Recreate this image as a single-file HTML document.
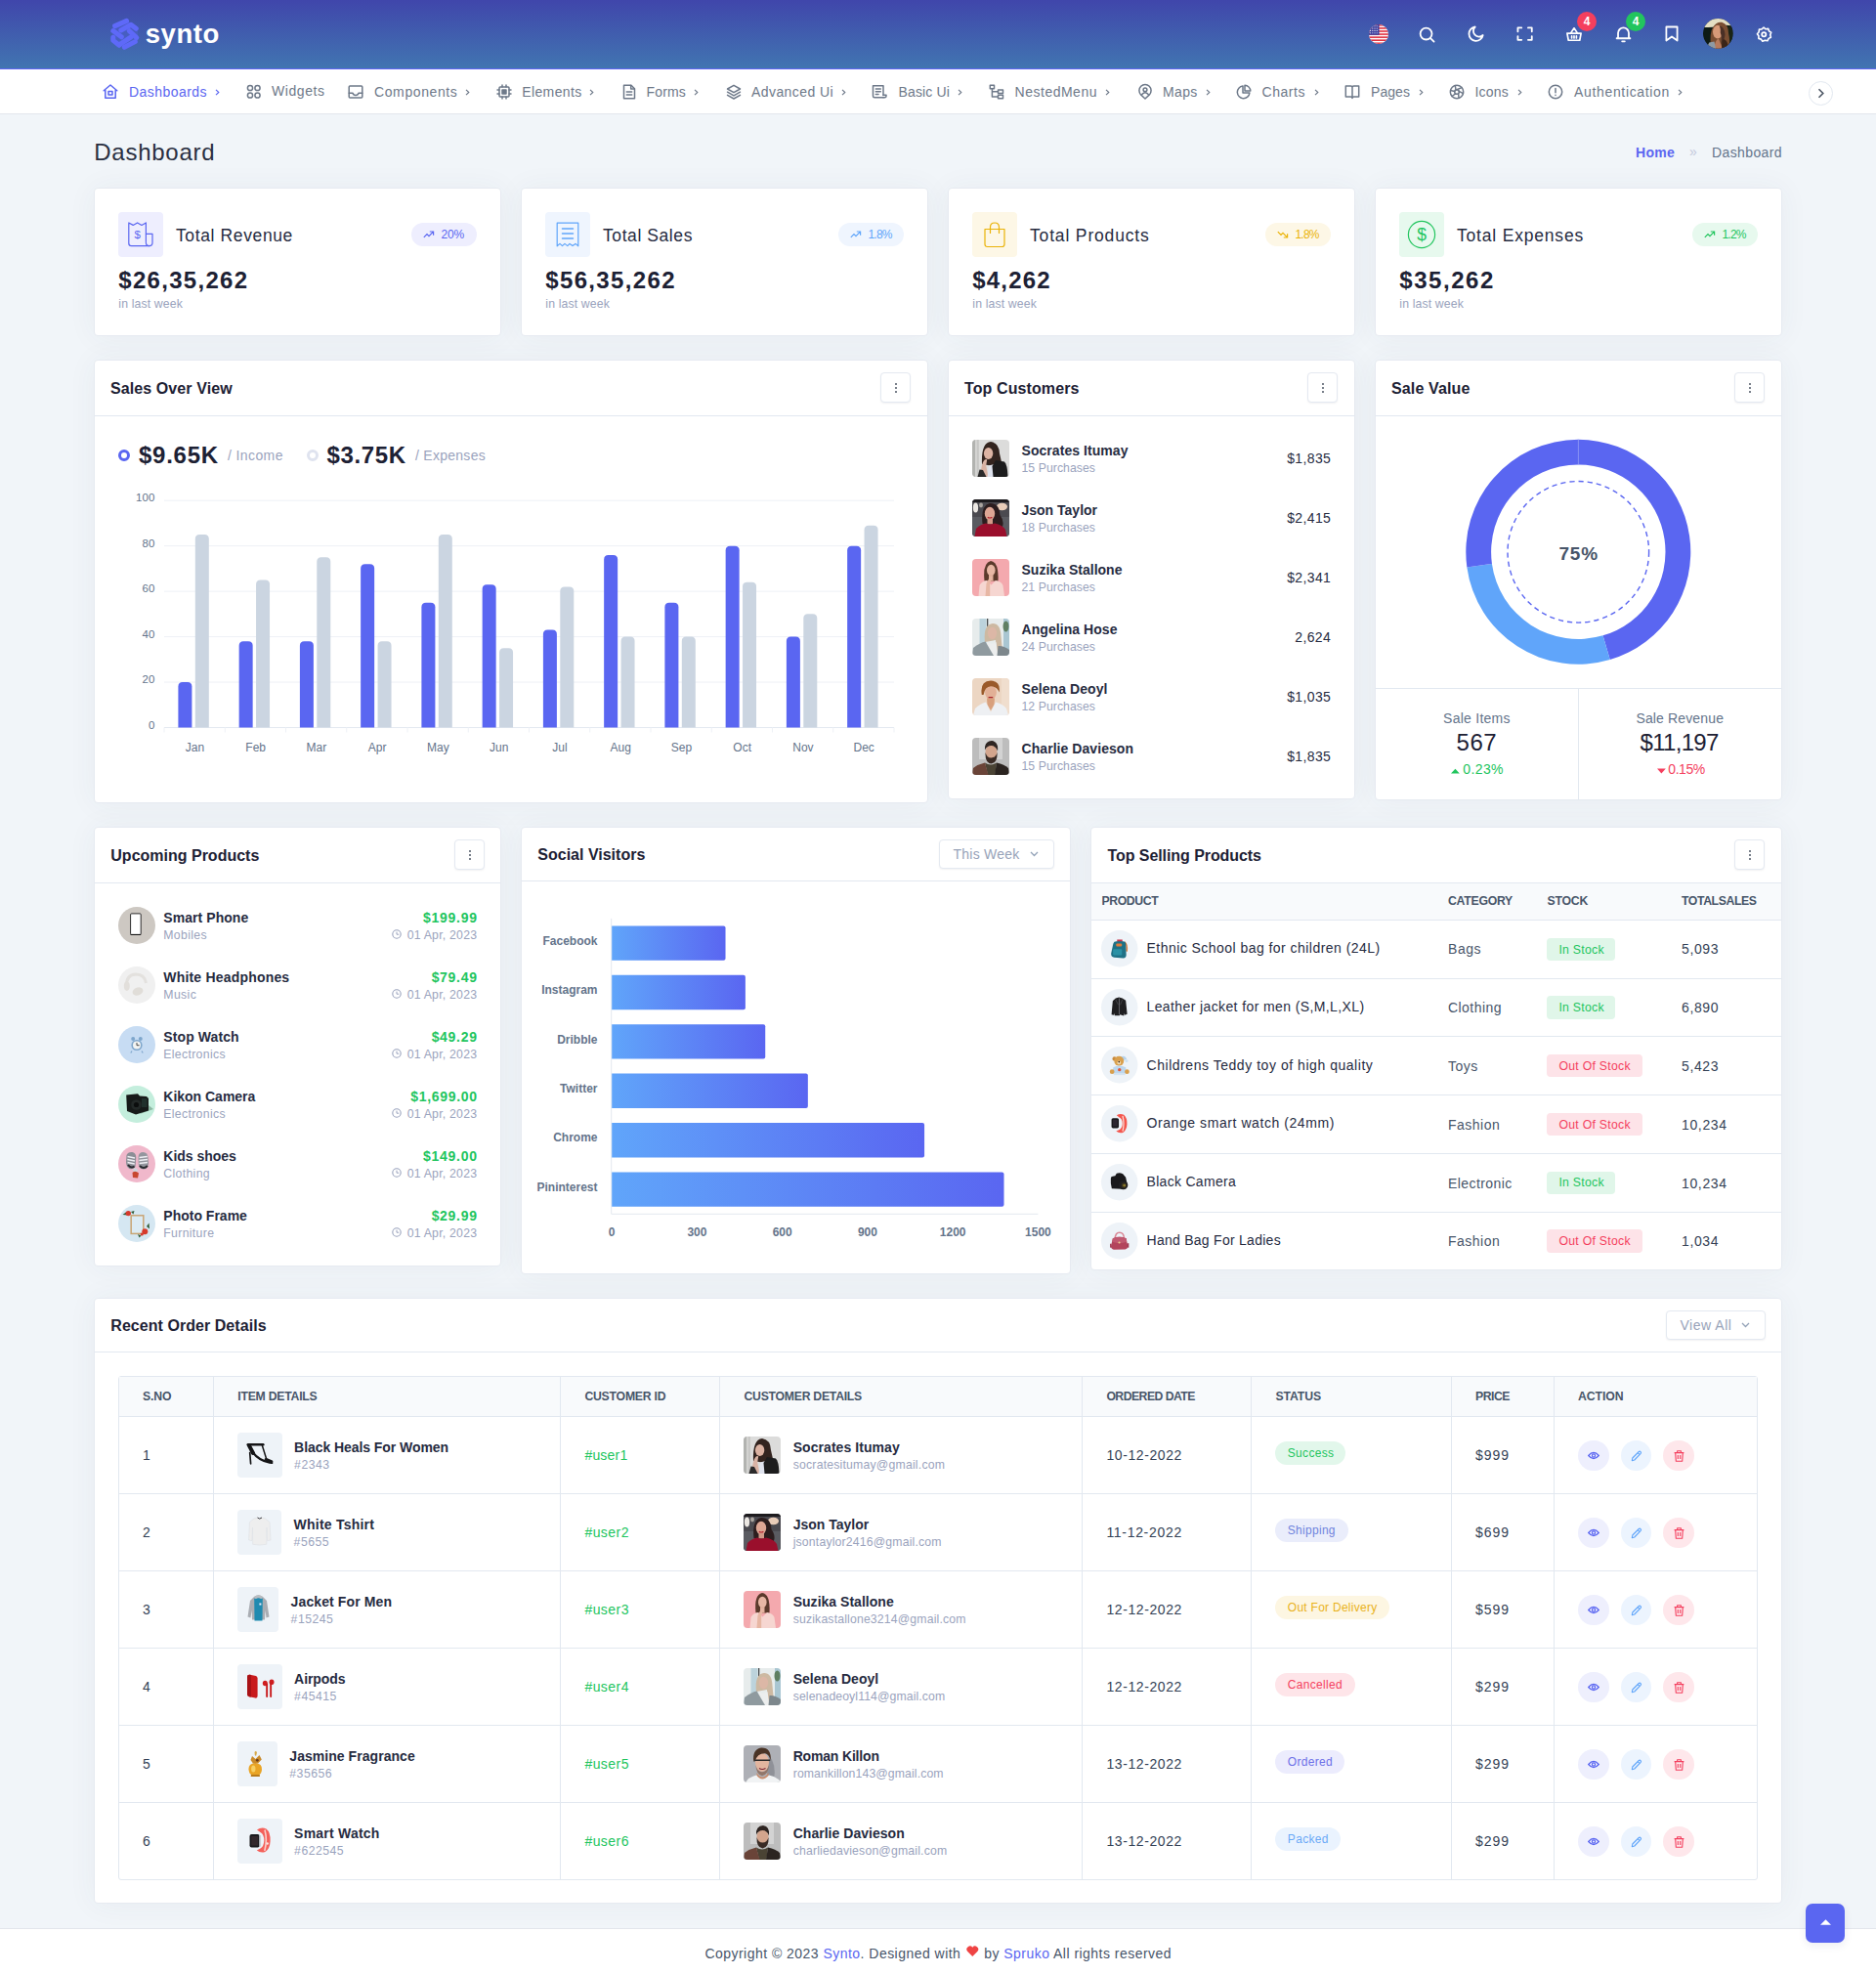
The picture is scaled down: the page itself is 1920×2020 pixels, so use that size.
<!DOCTYPE html>
<html lang="en"><head><meta charset="utf-8"><title>Synto - Dashboard</title>
<style>
*{margin:0;padding:0;box-sizing:border-box}
html,body{width:1920px;height:2020px;overflow:hidden}
body{position:relative;background:#f1f5f9;font-family:"Liberation Sans",sans-serif;color:#1f2438}
.a{position:absolute;display:block}
.t{position:absolute;white-space:nowrap;line-height:1}
.hdr{background:linear-gradient(to bottom,#4046ab,#4175b1)}
.card{background:#fff;border:1px solid #e6eaf1;border-radius:4px;box-shadow:0 1px 30px rgba(51,65,85,.055)}
.btn{background:#fff;border:1px solid #e4e9f1;border-radius:4px;box-shadow:0 1px 2px rgba(15,23,42,.06)}
svg{overflow:visible}
svg text{font-family:"Liberation Sans",sans-serif}
</style></head>
<body>
<div class="a hdr" style="left:0;top:0;width:1920px;height:70px;"></div>
<div class="a" style="left:0px;top:70px;width:1920px;height:1px;background:#6366f1;"></div>
<div class="a" style="left:0px;top:71px;width:1920px;height:45px;background:#fff;"></div>
<div class="a" style="left:0px;top:116px;width:1920px;height:1px;background:#e3e6ec;"></div>
<svg class="a" style="left:108px;top:14px;" width="40" height="42" viewBox="0 0 40 42"><path d="M20 6 L33 13.5 L33 28.5 L20 36 L7 28.5 L7 13.5 Z" fill="#4d5ed0" opacity=".55"/><g fill="none" stroke="#5e69f8" stroke-width="5" stroke-linecap="round" stroke-linejoin="round"><path d="M9.6 12.6 L21.6 7.4"/><path d="M15.8 17 L26 11.3 L31.3 15.3"/><path d="M24.3 17.6 L31.8 24.6"/><path d="M7.8 17.6 L16.3 23.8"/><path d="M7.8 24.2 V27.4 L14 32.3"/><path d="M14.8 31.3 L25.8 24.2"/><path d="M19.3 34.3 L30.3 28.6"/></g></svg>
<div class="t" style="top:21px;font-size:27.5px;color:#fff;font-weight:700;letter-spacing:0.59px;left:148.7px;">synto</div>
<svg class="a" style="left:1401px;top:24.5px;" width="20" height="20" viewBox="0 0 20 20"><defs><clipPath id="fc"><circle cx="10" cy="10" r="10"/></clipPath></defs><g clip-path="url(#fc)"><rect width="20" height="20" fill="#fff"/><rect x="0" y="0" width="20" height="1.6" fill="#e0313f"/><rect x="0" y="3.08" width="20" height="1.6" fill="#e0313f"/><rect x="0" y="6.16" width="20" height="1.6" fill="#e0313f"/><rect x="0" y="9.24" width="20" height="1.6" fill="#e0313f"/><rect x="0" y="12.32" width="20" height="1.6" fill="#e0313f"/><rect x="0" y="15.4" width="20" height="1.6" fill="#e0313f"/><rect x="0" y="18.48" width="20" height="1.6" fill="#e0313f"/><rect x="0" y="0" width="10.5" height="10.8" fill="#3c3f9e"/><circle cx="1.6" cy="1.8" r=".55" fill="#fff"/><circle cx="1.6" cy="4.1" r=".55" fill="#fff"/><circle cx="1.6" cy="6.4" r=".55" fill="#fff"/><circle cx="1.6" cy="8.7" r=".55" fill="#fff"/><circle cx="3.8" cy="1.8" r=".55" fill="#fff"/><circle cx="3.8" cy="4.1" r=".55" fill="#fff"/><circle cx="3.8" cy="6.4" r=".55" fill="#fff"/><circle cx="3.8" cy="8.7" r=".55" fill="#fff"/><circle cx="6" cy="1.8" r=".55" fill="#fff"/><circle cx="6" cy="4.1" r=".55" fill="#fff"/><circle cx="6" cy="6.4" r=".55" fill="#fff"/><circle cx="6" cy="8.7" r=".55" fill="#fff"/><circle cx="8.2" cy="1.8" r=".55" fill="#fff"/><circle cx="8.2" cy="4.1" r=".55" fill="#fff"/><circle cx="8.2" cy="6.4" r=".55" fill="#fff"/><circle cx="8.2" cy="8.7" r=".55" fill="#fff"/></g></svg>
<svg class="a" style="left:1452.3px;top:26.6px;" width="17" height="17" viewBox="0 0 18 18"><g fill="none" stroke="#fff" stroke-width="1.9" stroke-linecap="round" stroke-linejoin="round"><circle cx="8" cy="8" r="6.3"/><path d="M13 13 L16.5 16.5"/></g></svg>
<svg class="a" style="left:1502.3px;top:26.3px;" width="17" height="17" viewBox="0 0 18 18"><path fill="none" stroke="#fff" stroke-width="1.9" stroke-linecap="round" stroke-linejoin="round" d="M8.2 1.6 A7.6 7.6 0 1 0 16.6 10.6 A6 6 0 0 1 8.2 1.6 Z"/></svg>
<svg class="a" style="left:1552.4px;top:27.2px;" width="17.2" height="15.3" viewBox="0 0 18 16"><path fill="none" stroke="#fff" stroke-width="1.9" stroke-linecap="round" stroke-linejoin="round" d="M1.5 5.5 V1.5 H5.5 M12.5 1.5 H16.5 V5.5 M16.5 10.5 V14.5 H12.5 M5.5 14.5 H1.5 V10.5"/></svg>
<svg class="a" style="left:1603px;top:26.6px;" width="16" height="16" viewBox="0 0 18 18"><g fill="none" stroke="#fff" stroke-width="1.9" stroke-linecap="round" stroke-linejoin="round" stroke-width="1.7"><path d="M1 8 H17 L15.5 16 H2.5 Z"/><path d="M5 8 L9 2 L13 8"/><path d="M6.3 11 V13.5 M9 11 V13.5 M11.7 11 V13.5"/></g></svg>
<div class="a" style="left:1614px;top:12px;width:20px;height:20px;background:#f43f5e;border-radius:50%;"></div>
<div class="t" style="top:16px;font-size:12px;color:#fff;font-weight:700;left:1324px;width:600px;text-align:center;">4</div>
<svg class="a" style="left:1652.7px;top:25.8px;" width="17" height="18" viewBox="0 0 18 19"><g fill="none" stroke="#fff" stroke-width="1.9" stroke-linecap="round" stroke-linejoin="round"><path d="M3.2 14 V8.3 A5.8 5.8 0 0 1 14.8 8.3 V14 H16.3 H1.7 Z"/><path d="M7.6 17.3 H10.4"/></g></svg>
<div class="a" style="left:1664px;top:12px;width:20px;height:20px;background:#22c55e;border-radius:50%;"></div>
<div class="t" style="top:16px;font-size:12px;color:#fff;font-weight:700;left:1374px;width:600px;text-align:center;">4</div>
<svg class="a" style="left:1704px;top:26.3px;" width="14" height="17" viewBox="0 0 15 18"><path fill="none" stroke="#fff" stroke-width="1.9" stroke-linecap="round" stroke-linejoin="round" d="M1.5 1.5 H13.5 V16.5 L7.5 12.2 L1.5 16.5 Z"/></svg>
<svg class="a" style="left:1742.8px;top:19.4px;" width="30.7" height="30.7" viewBox="0 0 32 32"><defs><clipPath id="ac"><circle cx="16" cy="16" r="16"/></clipPath></defs><g clip-path="url(#ac)"><rect width="32" height="32" fill="#0d1a15"/><path d="M0 0 H32 V8 Q24 6 16 8 Q8 10 0 9Z" fill="#e4dfc4"/><rect x="22" y="8" width="10" height="24" fill="#1a2416"/><path d="M8.5 32 Q6.5 15 10.5 9.5 Q14.5 3 20 4 Q27 6 27.2 16 Q29.5 25 27 32 Z" fill="#7a4e32"/><ellipse cx="15.6" cy="14.2" rx="5.2" ry="7.2" fill="#d79a78"/><path d="M17.5 7.5 Q23 9 23.5 17 Q23 24 19 27 Q20.5 20 18.5 15 Q19 11 17.5 7.5Z" fill="#4a3026"/><path d="M12 32 Q12.5 23.5 16.5 21.5 L21 32Z" fill="#b87a5c"/><path d="M20 32 Q19 24 22 22 Q27 24 27 32Z" fill="#3a2418"/><path d="M3.5 32 L6.5 25.5 L12 24.5 L13.5 32 Z" fill="#8e9aa4"/></g></svg>
<svg class="a" style="left:1796.7px;top:26.6px;" width="16.2" height="16.2" viewBox="0 0 17 17"><g fill="none" stroke="#fff" stroke-width="1.9" stroke-linejoin="round"><path d="M8.5 1.2 L10.6 2.9 L13.3 2.5 L14.2 5.1 L16.5 6.6 L15.5 9.1 L16.2 11.8 L13.8 13 L12.5 15.5 L9.8 15 L7.2 16 L5.6 13.8 L3 13 L3.1 10.3 L1.5 8.1 L3.3 6 L3.6 3.3 L6.3 3 Z" stroke-width="1.7"/><circle cx="8.7" cy="8.6" r="2.2"/></g></svg>
<svg class="a" style="left:104.7px;top:85.6px;" width="16" height="16" viewBox="0 0 16 16"><g fill="none" stroke="#5a66f1" stroke-width="1.5" stroke-linecap="round" stroke-linejoin="round"><path d="M1.2 6.8 L8 1 L14.8 6.8 M2.8 6.3 V14.3 H13.2 V6.3"/><rect x="6" y="7.5" width="4" height="3.6"/></g></svg>
<div class="t" style="top:87px;font-size:14px;color:#5a66f1;letter-spacing:0.45px;left:132px;">Dashboards</div>
<svg class="a" style="left:219.5px;top:90.6px;" width="5" height="7" viewBox="0 0 5 7"><path d="M1 0.8 L3.8 3.5 L1 6.2" fill="none" stroke="#5a66f1" stroke-width="1.15"/></svg>
<svg class="a" style="left:251.7px;top:85.6px;" width="16" height="16" viewBox="0 0 16 16"><g fill="none" stroke="#6e7989" stroke-width="1.5" stroke-linecap="round" stroke-linejoin="round"><circle cx="4" cy="4" r="2.6"/><circle cx="11.5" cy="4" r="2.6"/><circle cx="4" cy="11.5" r="2.6"/><circle cx="11.5" cy="11.5" r="2.6"/></g></svg>
<div class="t" style="top:86px;font-size:14px;color:#6e7989;letter-spacing:0.56px;left:278px;">Widgets</div>
<svg class="a" style="left:355.7px;top:85.6px;" width="16" height="16" viewBox="0 0 16 16"><g fill="none" stroke="#6e7989" stroke-width="1.5" stroke-linecap="round" stroke-linejoin="round"><rect x="1.2" y="2" width="13.6" height="12" rx="1"/><path d="M1.2 9.2 H5 Q5.6 11.4 8 11.4 Q10.4 11.4 11 9.2 H14.8"/></g></svg>
<div class="t" style="top:87px;font-size:14px;color:#6e7989;letter-spacing:0.61px;left:383px;">Components</div>
<svg class="a" style="left:476px;top:90.6px;" width="5" height="7" viewBox="0 0 5 7"><path d="M1 0.8 L3.8 3.5 L1 6.2" fill="none" stroke="#6e7989" stroke-width="1.15"/></svg>
<svg class="a" style="left:507.7px;top:85.6px;" width="16" height="16" viewBox="0 0 16 16"><g fill="none" stroke="#6e7989" stroke-width="1.5" stroke-linecap="round" stroke-linejoin="round"><rect x="3" y="3" width="10" height="10" rx="1"/><rect x="6" y="6" width="4" height="4" fill="#6e7989"/><path d="M6 1 V3 M10 1 V3 M6 13 V15 M10 13 V15 M1 6 H3 M1 10 H3 M13 6 H15 M13 10 H15"/></g></svg>
<div class="t" style="top:87px;font-size:14px;color:#6e7989;letter-spacing:0.36px;left:534.3px;">Elements</div>
<svg class="a" style="left:602.5px;top:90.6px;" width="5" height="7" viewBox="0 0 5 7"><path d="M1 0.8 L3.8 3.5 L1 6.2" fill="none" stroke="#6e7989" stroke-width="1.15"/></svg>
<svg class="a" style="left:635.7px;top:85.6px;" width="16" height="16" viewBox="0 0 16 16"><g fill="none" stroke="#6e7989" stroke-width="1.5" stroke-linecap="round" stroke-linejoin="round"><path d="M2.5 1.3 H10 L13.5 4.8 V14.7 H2.5 Z"/><path d="M9.7 1.5 V5 H13.3 M5.3 8 H10.7 M5.3 11 H10.7"/></g></svg>
<div class="t" style="top:87px;font-size:14px;color:#6e7989;letter-spacing:0.17px;left:661.5px;">Forms</div>
<svg class="a" style="left:709.5px;top:90.6px;" width="5" height="7" viewBox="0 0 5 7"><path d="M1 0.8 L3.8 3.5 L1 6.2" fill="none" stroke="#6e7989" stroke-width="1.15"/></svg>
<svg class="a" style="left:742.7px;top:85.6px;" width="16" height="16" viewBox="0 0 16 16"><g fill="none" stroke="#6e7989" stroke-width="1.5" stroke-linecap="round" stroke-linejoin="round"><path d="M8 1.3 L14.5 5 L8 8.7 L1.5 5 Z"/><path d="M1.5 8.2 L8 11.9 L14.5 8.2 M1.5 11.3 L8 15 L14.5 11.3"/></g></svg>
<div class="t" style="top:87px;font-size:14px;color:#6e7989;letter-spacing:0.42px;left:769px;">Advanced Ui</div>
<svg class="a" style="left:860.5px;top:90.6px;" width="5" height="7" viewBox="0 0 5 7"><path d="M1 0.8 L3.8 3.5 L1 6.2" fill="none" stroke="#6e7989" stroke-width="1.15"/></svg>
<svg class="a" style="left:891.7px;top:85.6px;" width="16" height="16" viewBox="0 0 16 16"><g fill="none" stroke="#6e7989" stroke-width="1.5" stroke-linecap="round" stroke-linejoin="round"><path d="M12 13.8 H3 Q1.5 13.8 1.5 12.3 V1.8 H12 V11.5"/><path d="M12 11.3 H15 V12.3 Q15 13.8 13.5 13.8 H12 M4.3 5 H9.3 M4.3 7.7 H9.3 M4.3 10.4 H7"/></g></svg>
<div class="t" style="top:87px;font-size:14px;color:#6e7989;letter-spacing:0.13px;left:919.6px;">Basic Ui</div>
<svg class="a" style="left:979.5px;top:90.6px;" width="5" height="7" viewBox="0 0 5 7"><path d="M1 0.8 L3.8 3.5 L1 6.2" fill="none" stroke="#6e7989" stroke-width="1.15"/></svg>
<svg class="a" style="left:1012.2px;top:85.6px;" width="16" height="16" viewBox="0 0 16 16"><g fill="none" stroke="#6e7989" stroke-width="1.5" stroke-linecap="round" stroke-linejoin="round"><rect x="1.3" y="1.3" width="4.2" height="3.4"/><rect x="9.5" y="6" width="5" height="3.4"/><rect x="9.5" y="11.3" width="5" height="3.4"/><path d="M3.4 4.7 V13 H9.5 M3.4 7.7 H9.5"/></g></svg>
<div class="t" style="top:87px;font-size:14px;color:#6e7989;letter-spacing:0.5px;left:1038.6px;">NestedMenu</div>
<svg class="a" style="left:1130.5px;top:90.6px;" width="5" height="7" viewBox="0 0 5 7"><path d="M1 0.8 L3.8 3.5 L1 6.2" fill="none" stroke="#6e7989" stroke-width="1.15"/></svg>
<svg class="a" style="left:1163.7px;top:85.6px;" width="16" height="16" viewBox="0 0 16 16"><g fill="none" stroke="#6e7989" stroke-width="1.5" stroke-linecap="round" stroke-linejoin="round"><path d="M8 15 L3.6 10.9 A6.1 6.1 0 1 1 12.4 10.9 Z"/><circle cx="8" cy="5.8" r="1.9"/><path d="M4.8 10.6 Q8 7 11.2 10.6"/></g></svg>
<div class="t" style="top:87px;font-size:14px;color:#6e7989;letter-spacing:0.34px;left:1190px;">Maps</div>
<svg class="a" style="left:1233.5px;top:90.6px;" width="5" height="7" viewBox="0 0 5 7"><path d="M1 0.8 L3.8 3.5 L1 6.2" fill="none" stroke="#6e7989" stroke-width="1.15"/></svg>
<svg class="a" style="left:1264.7px;top:85.6px;" width="16" height="16" viewBox="0 0 16 16"><g fill="none" stroke="#6e7989" stroke-width="1.5" stroke-linecap="round" stroke-linejoin="round"><path d="M7 2.1 A6.3 6.3 0 1 0 13.9 9 H7 Z"/><path d="M9 1.2 A6.3 6.3 0 0 1 14.8 7 H9 Z" transform="translate(0,0)"/></g></svg>
<div class="t" style="top:87px;font-size:14px;color:#6e7989;letter-spacing:0.54px;left:1291.5px;">Charts</div>
<svg class="a" style="left:1344.5px;top:90.6px;" width="5" height="7" viewBox="0 0 5 7"><path d="M1 0.8 L3.8 3.5 L1 6.2" fill="none" stroke="#6e7989" stroke-width="1.15"/></svg>
<svg class="a" style="left:1375.7px;top:85.6px;" width="16" height="16" viewBox="0 0 16 16"><g fill="none" stroke="#6e7989" stroke-width="1.5" stroke-linecap="round" stroke-linejoin="round"><path d="M8 3 V14.5 M1.3 2 H6.5 Q8 2 8 3.5 Q8 2 9.5 2 H14.7 V13 H9.5 Q8 13 8 14.5 Q8 13 6.5 13 H1.3 Z"/></g></svg>
<div class="t" style="top:87px;font-size:14px;color:#6e7989;letter-spacing:0.06px;left:1403px;">Pages</div>
<svg class="a" style="left:1451.5px;top:90.6px;" width="5" height="7" viewBox="0 0 5 7"><path d="M1 0.8 L3.8 3.5 L1 6.2" fill="none" stroke="#6e7989" stroke-width="1.15"/></svg>
<svg class="a" style="left:1482.7px;top:85.6px;" width="16" height="16" viewBox="0 0 16 16"><g fill="none" stroke="#6e7989" stroke-width="1.5" stroke-linecap="round" stroke-linejoin="round"><circle cx="8" cy="8" r="6.7"/><circle cx="8" cy="8" r="2.3"/><path d="M8 5.7 L13 3.6 M10.2 7.4 L14.5 9.6 M9.6 9.7 L10 14.3 M6.7 9.9 L3 12.5 M5.8 7.6 L1.5 6.5 M7 5.9 L6.3 1.6"/></g></svg>
<div class="t" style="top:87px;font-size:14px;color:#6e7989;letter-spacing:0.21px;left:1509.5px;">Icons</div>
<svg class="a" style="left:1552.5px;top:90.6px;" width="5" height="7" viewBox="0 0 5 7"><path d="M1 0.8 L3.8 3.5 L1 6.2" fill="none" stroke="#6e7989" stroke-width="1.15"/></svg>
<svg class="a" style="left:1584.2px;top:85.6px;" width="16" height="16" viewBox="0 0 16 16"><g fill="none" stroke="#6e7989" stroke-width="1.5" stroke-linecap="round" stroke-linejoin="round"><circle cx="8" cy="8" r="6.7"/><path d="M8 4.5 V8.7 M8 11.2 V11.4"/></g></svg>
<div class="t" style="top:87px;font-size:14px;color:#6e7989;letter-spacing:0.66px;left:1611px;">Authentication</div>
<svg class="a" style="left:1716.5px;top:90.6px;" width="5" height="7" viewBox="0 0 5 7"><path d="M1 0.8 L3.8 3.5 L1 6.2" fill="none" stroke="#6e7989" stroke-width="1.15"/></svg>
<div class="a" style="left:1851px;top:82.5px;width:25px;height:25px;border:1px solid #e2e8f0;border-radius:50%;background:#fff;box-sizing:border-box;"></div>
<svg class="a" style="left:1860px;top:90px;" width="8" height="11" viewBox="0 0 8 11"><path d="M1.5 1.2 L5.8 5.5 L1.5 9.8" fill="none" stroke="#4b5563" stroke-width="1.6"/></svg>
<div class="t" style="top:144px;font-size:24px;color:#2a3042;letter-spacing:0.73px;left:96.3px;">Dashboard</div>
<div class="t" style="top:149px;font-size:14px;color:#5a66f1;font-weight:700;letter-spacing:0.28px;left:1674px;">Home</div>
<div class="t" style="top:148px;font-size:14px;color:#c3c8dc;left:1729px;">»</div>
<div class="t" style="top:149px;font-size:14px;color:#64748b;letter-spacing:0.39px;left:1752px;">Dashboard</div>
<div class="a card" style="left:96px;top:192px;width:417px;height:152px;"></div>
<div class="a" style="left:121px;top:217px;width:46px;height:46px;background:#eeeefe;border-radius:4px;"></div>
<svg class="a" style="left:131px;top:226.5px;" width="27" height="27" viewBox="0 0 27 27"><g fill="none" stroke="#5a66f1" stroke-width="1.2" stroke-linejoin="round" stroke-linecap="round"><path d="M0.8 1 L5.2 3.4 L9.6 0.9 L14 3.4 L18.4 0.9 V20.5 M0.8 1 V22 Q0.8 24.6 3.4 24.6 H22"/><path d="M18.4 12.3 H25 V21.5 Q25 24.6 21.8 24.6 Q18.4 24.6 18.4 21.3"/></g><text x="9.6" y="17.2" font-size="11.5" fill="#5a66f1" text-anchor="middle" font-family="Liberation Sans,sans-serif">$</text></svg>
<div class="t" style="top:233px;font-size:17.5px;color:#262b3f;letter-spacing:0.62px;left:180px;">Total Revenue</div>
<div class="a" style="left:420.8px;top:228.2px;width:67.2px;height:23.6px;background:#eeeefe;border-radius:12px;"></div>
<div class="t" style="top:234px;font-size:12px;color:#5a66f1;letter-spacing:-0.07px;left:451.4px;">20%</div>
<svg class="a" style="left:433.4px;top:236px;" width="12" height="9" viewBox="0 0 12 9"><path d="M0.8 6.8 L4 3.6 L6 5.6 L10.4 1.2 M6.8 1 H10.6 V4.8" fill="none" stroke="#5a66f1" stroke-width="1.2"/></svg>
<div class="t" style="top:275px;font-size:24px;color:#1d2134;font-weight:700;letter-spacing:1.29px;left:121.3px;">$26,35,262</div>
<div class="t" style="top:305px;font-size:12.25px;color:#9aa3bd;letter-spacing:0.14px;left:121.3px;">in last week</div>
<div class="a card" style="left:533px;top:192px;width:417px;height:152px;"></div>
<div class="a" style="left:558px;top:217px;width:46px;height:46px;background:#eff5fe;border-radius:4px;"></div>
<svg class="a" style="left:569px;top:226.5px;" width="24" height="27" viewBox="0 0 24 27"><g fill="none" stroke="#60a5fa" stroke-width="1.2" stroke-linejoin="round" stroke-linecap="round"><path d="M1.2 24.8 V1.2 H22.8 V24.8 L20 22.4 L17 24.6 L14 22.4 L11.8 24.6 L9 22.4 L6.5 24.6 L4 22.4 Z"/><path d="M6.5 7 H17.5 M6.5 12 H17.5 M6.5 17 H17.5" stroke-width="1.5"/></g></svg>
<div class="t" style="top:233px;font-size:17.5px;color:#262b3f;letter-spacing:0.58px;left:617px;">Total Sales</div>
<div class="a" style="left:857.8px;top:228.2px;width:67.2px;height:23.6px;background:#eff5fe;border-radius:12px;"></div>
<div class="t" style="top:234px;font-size:12px;color:#60a5fa;letter-spacing:-0.74px;left:888.4px;">1.8%</div>
<svg class="a" style="left:870.4px;top:236px;" width="12" height="9" viewBox="0 0 12 9"><path d="M0.8 6.8 L4 3.6 L6 5.6 L10.4 1.2 M6.8 1 H10.6 V4.8" fill="none" stroke="#60a5fa" stroke-width="1.2"/></svg>
<div class="t" style="top:275px;font-size:24px;color:#1d2134;font-weight:700;letter-spacing:1.34px;left:558.3px;">$56,35,262</div>
<div class="t" style="top:305px;font-size:12.25px;color:#9aa3bd;letter-spacing:0.14px;left:558.3px;">in last week</div>
<div class="a card" style="left:970px;top:192px;width:417px;height:152px;"></div>
<div class="a" style="left:995px;top:217px;width:46px;height:46px;background:#fdf7e6;border-radius:4px;"></div>
<svg class="a" style="left:1007px;top:226.5px;" width="22" height="27" viewBox="0 0 22 27"><g fill="none" stroke="#eab308" stroke-width="1.2" stroke-linejoin="round" stroke-linecap="round" stroke-width="1.3"><path d="M1 7.5 H21 V23 Q21 25.5 18.5 25.5 H3.5 Q1 25.5 1 23 Z"/><path d="M6.5 11.5 V5.5 Q6.5 1 11 1 Q15.5 1 15.5 5.5 V11.5"/></g></svg>
<div class="t" style="top:233px;font-size:17.5px;color:#262b3f;letter-spacing:0.84px;left:1054px;">Total Products</div>
<div class="a" style="left:1294.8px;top:228.2px;width:67.2px;height:23.6px;background:#fdf7e6;border-radius:12px;"></div>
<div class="t" style="top:234px;font-size:12px;color:#eab308;letter-spacing:-0.74px;left:1325.4px;">1.8%</div>
<svg class="a" style="left:1307.4px;top:236px;" width="12" height="9" viewBox="0 0 12 9"><path d="M0.8 1.2 L4 4.4 L6 2.4 L10.4 6.8 M6.8 7 H10.6 V3.2" fill="none" stroke="#eab308" stroke-width="1.2"/></svg>
<div class="t" style="top:275px;font-size:24px;color:#1d2134;font-weight:700;letter-spacing:1.18px;left:995.3px;">$4,262</div>
<div class="t" style="top:305px;font-size:12.25px;color:#9aa3bd;letter-spacing:0.14px;left:995.3px;">in last week</div>
<div class="a card" style="left:1407px;top:192px;width:417px;height:152px;"></div>
<div class="a" style="left:1432px;top:217px;width:46px;height:46px;background:#e7f9ee;border-radius:4px;"></div>
<svg class="a" style="left:1440.3px;top:224.8px;" width="30" height="30" viewBox="0 0 30 30"><g fill="none" stroke="#22c55e" stroke-width="1.2" stroke-linejoin="round" stroke-linecap="round"><circle cx="15" cy="15" r="13.6"/></g><text x="15" y="21.2" font-size="17.5" fill="#22c55e" text-anchor="middle" font-family="Liberation Sans,sans-serif">$</text></svg>
<div class="t" style="top:233px;font-size:17.5px;color:#262b3f;letter-spacing:0.81px;left:1491px;">Total Expenses</div>
<div class="a" style="left:1731.8px;top:228.2px;width:67.2px;height:23.6px;background:#e7f9ee;border-radius:12px;"></div>
<div class="t" style="top:234px;font-size:12px;color:#22c55e;letter-spacing:-0.74px;left:1762.4px;">1.2%</div>
<svg class="a" style="left:1744.4px;top:236px;" width="12" height="9" viewBox="0 0 12 9"><path d="M0.8 6.8 L4 3.6 L6 5.6 L10.4 1.2 M6.8 1 H10.6 V4.8" fill="none" stroke="#22c55e" stroke-width="1.2"/></svg>
<div class="t" style="top:275px;font-size:24px;color:#1d2134;font-weight:700;letter-spacing:1.54px;left:1432.3px;">$35,262</div>
<div class="t" style="top:305px;font-size:12.25px;color:#9aa3bd;letter-spacing:0.14px;left:1432.3px;">in last week</div>
<div class="a card" style="left:96px;top:368px;width:854px;height:454px;"></div>
<div class="t" style="top:390px;font-size:16px;color:#1d2134;font-weight:700;letter-spacing:0.09px;left:113px;">Sales Over View</div>
<div class="a btn" style="left:901px;top:381px;width:31px;height:31px;"></div>
<div class="a" style="left:915.5px;top:391.5px;width:2px;height:2px;background:#4b5563;border-radius:50%;"></div>
<div class="a" style="left:915.5px;top:395.5px;width:2px;height:2px;background:#4b5563;border-radius:50%;"></div>
<div class="a" style="left:915.5px;top:399.5px;width:2px;height:2px;background:#4b5563;border-radius:50%;"></div>
<div class="a" style="left:97px;top:425px;width:852px;height:1px;background:#e2e8f0;"></div>
<div class="a" style="left:121px;top:460px;width:12px;height:12px;border:3.5px solid #5a66f1;border-radius:50%;background:#fff;"></div>
<div class="t" style="top:454px;font-size:24px;color:#1d2134;font-weight:700;letter-spacing:0.73px;left:142px;">$9.65K</div>
<div class="t" style="top:459px;font-size:14px;color:#9aa3bd;letter-spacing:0.39px;left:233px;">/ Income</div>
<div class="a" style="left:314px;top:460px;width:12px;height:12px;border:3.5px solid #dfe3ef;border-radius:50%;background:#fff;"></div>
<div class="t" style="top:454px;font-size:24px;color:#1d2134;font-weight:700;letter-spacing:0.63px;left:334.6px;">$3.75K</div>
<div class="t" style="top:459px;font-size:14px;color:#9aa3bd;letter-spacing:0.27px;left:425px;">/ Expenses</div>
<svg class="a" style="left:0px;top:0px;pointer-events:none;" width="1920" height="900" viewBox="0 0 1920 900"><path d="M168 744.5 H915" stroke="#eef1f6" stroke-width="1"/><path d="M168 698.04 H915" stroke="#eef1f6" stroke-width="1"/><path d="M168 651.58 H915" stroke="#eef1f6" stroke-width="1"/><path d="M168 605.12 H915" stroke="#eef1f6" stroke-width="1"/><path d="M168 558.66 H915" stroke="#eef1f6" stroke-width="1"/><path d="M168 512.2 H915" stroke="#eef1f6" stroke-width="1"/><path d="M168 744.5 H915" stroke="#e4e9f0" stroke-width="1"/><path d="M168 744.5 v5" stroke="#eef1f6" stroke-width="1"/><path d="M230.25 744.5 v5" stroke="#eef1f6" stroke-width="1"/><path d="M292.5 744.5 v5" stroke="#eef1f6" stroke-width="1"/><path d="M354.75 744.5 v5" stroke="#eef1f6" stroke-width="1"/><path d="M417 744.5 v5" stroke="#eef1f6" stroke-width="1"/><path d="M479.25 744.5 v5" stroke="#eef1f6" stroke-width="1"/><path d="M541.5 744.5 v5" stroke="#eef1f6" stroke-width="1"/><path d="M603.75 744.5 v5" stroke="#eef1f6" stroke-width="1"/><path d="M666 744.5 v5" stroke="#eef1f6" stroke-width="1"/><path d="M728.25 744.5 v5" stroke="#eef1f6" stroke-width="1"/><path d="M790.5 744.5 v5" stroke="#eef1f6" stroke-width="1"/><path d="M852.75 744.5 v5" stroke="#eef1f6" stroke-width="1"/><path d="M915 744.5 v5" stroke="#eef1f6" stroke-width="1"/><path d="M182.4 744.5 V702.54 Q182.4 698.04 186.9 698.04 H191.9 Q196.4 698.04 196.4 702.54 V744.5 Z" fill="#5a66f1"/><path d="M199.8 744.5 V551.55 Q199.8 547.05 204.3 547.05 H209.3 Q213.8 547.05 213.8 551.55 V744.5 Z" fill="#cbd5e1"/><path d="M244.65 744.5 V660.73 Q244.65 656.23 249.15 656.23 H254.15 Q258.65 656.23 258.65 660.73 V744.5 Z" fill="#5a66f1"/><path d="M262.05 744.5 V598 Q262.05 593.5 266.55 593.5 H271.55 Q276.05 593.5 276.05 598 V744.5 Z" fill="#cbd5e1"/><path d="M306.9 744.5 V660.73 Q306.9 656.23 311.4 656.23 H316.4 Q320.9 656.23 320.9 660.73 V744.5 Z" fill="#5a66f1"/><path d="M324.3 744.5 V574.78 Q324.3 570.28 328.8 570.28 H333.8 Q338.3 570.28 338.3 574.78 V744.5 Z" fill="#cbd5e1"/><path d="M369.15 744.5 V581.74 Q369.15 577.24 373.65 577.24 H378.65 Q383.15 577.24 383.15 581.74 V744.5 Z" fill="#5a66f1"/><path d="M386.55 744.5 V660.73 Q386.55 656.23 391.05 656.23 H396.05 Q400.55 656.23 400.55 660.73 V744.5 Z" fill="#cbd5e1"/><path d="M431.4 744.5 V621.24 Q431.4 616.74 435.9 616.74 H440.9 Q445.4 616.74 445.4 621.24 V744.5 Z" fill="#5a66f1"/><path d="M448.8 744.5 V551.55 Q448.8 547.05 453.3 547.05 H458.3 Q462.8 547.05 462.8 551.55 V744.5 Z" fill="#cbd5e1"/><path d="M493.65 744.5 V602.65 Q493.65 598.15 498.15 598.15 H503.15 Q507.65 598.15 507.65 602.65 V744.5 Z" fill="#5a66f1"/><path d="M511.05 744.5 V667.7 Q511.05 663.2 515.55 663.2 H520.55 Q525.05 663.2 525.05 667.7 V744.5 Z" fill="#cbd5e1"/><path d="M555.9 744.5 V649.11 Q555.9 644.61 560.4 644.61 H565.4 Q569.9 644.61 569.9 649.11 V744.5 Z" fill="#5a66f1"/><path d="M573.3 744.5 V604.97 Q573.3 600.47 577.8 600.47 H582.8 Q587.3 600.47 587.3 604.97 V744.5 Z" fill="#cbd5e1"/><path d="M618.15 744.5 V572.45 Q618.15 567.95 622.65 567.95 H627.65 Q632.15 567.95 632.15 572.45 V744.5 Z" fill="#5a66f1"/><path d="M635.55 744.5 V656.08 Q635.55 651.58 640.05 651.58 H645.05 Q649.55 651.58 649.55 656.08 V744.5 Z" fill="#cbd5e1"/><path d="M680.4 744.5 V621.24 Q680.4 616.74 684.9 616.74 H689.9 Q694.4 616.74 694.4 621.24 V744.5 Z" fill="#5a66f1"/><path d="M697.8 744.5 V656.08 Q697.8 651.58 702.3 651.58 H707.3 Q711.8 651.58 711.8 656.08 V744.5 Z" fill="#cbd5e1"/><path d="M742.65 744.5 V563.16 Q742.65 558.66 747.15 558.66 H752.15 Q756.65 558.66 756.65 563.16 V744.5 Z" fill="#5a66f1"/><path d="M760.05 744.5 V600.33 Q760.05 595.83 764.55 595.83 H769.55 Q774.05 595.83 774.05 600.33 V744.5 Z" fill="#cbd5e1"/><path d="M804.9 744.5 V656.08 Q804.9 651.58 809.4 651.58 H814.4 Q818.9 651.58 818.9 656.08 V744.5 Z" fill="#5a66f1"/><path d="M822.3 744.5 V632.85 Q822.3 628.35 826.8 628.35 H831.8 Q836.3 628.35 836.3 632.85 V744.5 Z" fill="#cbd5e1"/><path d="M867.15 744.5 V563.16 Q867.15 558.66 871.65 558.66 H876.65 Q881.15 558.66 881.15 563.16 V744.5 Z" fill="#5a66f1"/><path d="M884.55 744.5 V542.25 Q884.55 537.75 889.05 537.75 H894.05 Q898.55 537.75 898.55 542.25 V744.5 Z" fill="#cbd5e1"/><text x="158.3" y="745.7" text-anchor="end" font-size="11.5" fill="#64748b">0</text><text x="158.3" y="699.24" text-anchor="end" font-size="11.5" fill="#64748b">20</text><text x="158.3" y="652.78" text-anchor="end" font-size="11.5" fill="#64748b">40</text><text x="158.3" y="606.32" text-anchor="end" font-size="11.5" fill="#64748b">60</text><text x="158.3" y="559.86" text-anchor="end" font-size="11.5" fill="#64748b">80</text><text x="158.3" y="513.4" text-anchor="end" font-size="11.5" fill="#64748b">100</text><text x="199.43" y="769" text-anchor="middle" font-size="12" fill="#64748b">Jan</text><text x="261.68" y="769" text-anchor="middle" font-size="12" fill="#64748b">Feb</text><text x="323.93" y="769" text-anchor="middle" font-size="12" fill="#64748b">Mar</text><text x="386.18" y="769" text-anchor="middle" font-size="12" fill="#64748b">Apr</text><text x="448.43" y="769" text-anchor="middle" font-size="12" fill="#64748b">May</text><text x="510.68" y="769" text-anchor="middle" font-size="12" fill="#64748b">Jun</text><text x="572.92" y="769" text-anchor="middle" font-size="12" fill="#64748b">Jul</text><text x="635.17" y="769" text-anchor="middle" font-size="12" fill="#64748b">Aug</text><text x="697.42" y="769" text-anchor="middle" font-size="12" fill="#64748b">Sep</text><text x="759.67" y="769" text-anchor="middle" font-size="12" fill="#64748b">Oct</text><text x="821.92" y="769" text-anchor="middle" font-size="12" fill="#64748b">Nov</text><text x="884.17" y="769" text-anchor="middle" font-size="12" fill="#64748b">Dec</text></svg>
<div class="a card" style="left:970px;top:368px;width:417px;height:450px;"></div>
<div class="t" style="top:390px;font-size:16px;color:#1d2134;font-weight:700;letter-spacing:0.1px;left:987px;">Top Customers</div>
<div class="a btn" style="left:1338px;top:381px;width:31px;height:31px;"></div>
<div class="a" style="left:1352.5px;top:391.5px;width:2px;height:2px;background:#4b5563;border-radius:50%;"></div>
<div class="a" style="left:1352.5px;top:395.5px;width:2px;height:2px;background:#4b5563;border-radius:50%;"></div>
<div class="a" style="left:1352.5px;top:399.5px;width:2px;height:2px;background:#4b5563;border-radius:50%;"></div>
<div class="a" style="left:971px;top:425px;width:415px;height:1px;background:#e2e8f0;"></div>
<svg class="a" style="left:995px;top:450px;" width="38" height="38" viewBox="0 0 38 38"><defs><clipPath id="tc0"><rect width="38" height="38" rx="4"/></clipPath></defs><g clip-path="url(#tc0)"><rect width="38" height="38" fill="#dcdcdb"/><rect width="3.2" height="38" fill="#b2b3b0"/><rect x="4.6" width="2.2" height="38" fill="#c6c6c4"/><path d="M10 25 Q9 3 19 2 Q27.5 3 28 14 L30.5 25 L22 27 Z" fill="#33241f"/><ellipse cx="16.6" cy="14" rx="4.7" ry="6.1" fill="#dcb3a3"/><path d="M7.5 38 L10 26 Q12 19 15.2 20.2 L14.2 26.5 L16.5 38 Z" fill="#d9b3a4"/><path d="M15.5 38 L17 26.5 L22.5 25 L22.5 38 Z" fill="#dfe3ee"/><path d="M21.5 38 L20.5 27 L24 21 L33 22.5 Q36 25 36.5 38 Z" fill="#1c1c1d"/><path d="M5.5 38 L7.5 30.5 L11 31 L14.5 38Z" fill="#2b2a2a"/></g></svg>
<div class="t" style="top:454px;font-size:14px;color:#262b3f;font-weight:700;letter-spacing:0.06px;left:1045.5px;">Socrates Itumay</div>
<div class="t" style="top:473px;font-size:12.25px;color:#9aa3bd;letter-spacing:0.05px;left:1045.5px;">15 Purchases</div>
<div class="t" style="top:462px;font-size:14px;color:#262b3f;letter-spacing:0.36px;right:557.84px;">$1,835</div>
<svg class="a" style="left:995px;top:511px;" width="38" height="38" viewBox="0 0 38 38"><defs><clipPath id="tc1"><rect width="38" height="38" rx="4"/></clipPath></defs><g clip-path="url(#tc1)"><rect width="38" height="38" fill="#4b4a50"/><rect y="18" width="38" height="20" fill="#5a5b61"/><rect width="38" height="3" fill="#1d1b1e"/><ellipse cx="3.5" cy="8.5" rx="2.6" ry="5" fill="#ece8e3"/><ellipse cx="30.5" cy="7.5" rx="5.5" ry="3.8" fill="#e9cdb9"/><ellipse cx="9" cy="6" rx="2" ry="2.4" fill="#aaa49f"/><path d="M10.5 25 Q8.5 6 18 4 Q28 4 28.5 16 Q33 22 31 28 L24 27 Z" fill="#2c1d1e"/><ellipse cx="18" cy="14.5" rx="5.2" ry="6.8" fill="#dda694"/><rect x="15.5" y="19.5" width="5.5" height="6" fill="#d39a88"/><path d="M15.8 18.2 Q18 19.8 20.4 18.2" stroke="#b3202d" stroke-width="1.1" fill="none"/><path d="M2.5 38 L4 30 Q8 25.5 14 24.5 Q18 26.5 23 24.5 Q31 26 34 31 L35.5 38 Z" fill="#9a0f2c"/></g></svg>
<div class="t" style="top:515px;font-size:14px;color:#262b3f;font-weight:700;left:1045.5px;">Json Taylor</div>
<div class="t" style="top:534px;font-size:12.25px;color:#9aa3bd;letter-spacing:0.05px;left:1045.5px;">18 Purchases</div>
<div class="t" style="top:523px;font-size:14px;color:#262b3f;letter-spacing:0.36px;right:557.84px;">$2,415</div>
<svg class="a" style="left:995px;top:572px;" width="38" height="38" viewBox="0 0 38 38"><defs><clipPath id="tc2"><rect width="38" height="38" rx="4"/></clipPath></defs><g clip-path="url(#tc2)"><rect width="38" height="38" fill="#f4a9ae"/><path d="M12.5 22.5 Q10.5 4 19 2 Q27.5 3 26.5 22.5 Z" fill="#5b3a2b"/><ellipse cx="19.3" cy="11.5" rx="4.3" ry="5.8" fill="#e7b7a4"/><rect x="17" y="16" width="4.5" height="6.5" fill="#e2b09c"/><path d="M6.5 38 L7.5 27 Q10 22.5 15 22 L19.5 26.5 L24 22 Q30 23 31.5 27 L33 38 Z" fill="#f6d6d1"/><path d="M13.5 38 L14.5 25 L18.5 17.5 L20.6 18.6 L18.2 25 L18.2 38 Z" fill="#e7b7a4"/></g></svg>
<div class="t" style="top:576px;font-size:14px;color:#262b3f;font-weight:700;letter-spacing:0.02px;left:1045.5px;">Suzika Stallone</div>
<div class="t" style="top:595px;font-size:12.25px;color:#9aa3bd;letter-spacing:0.05px;left:1045.5px;">21 Purchases</div>
<div class="t" style="top:584px;font-size:14px;color:#262b3f;letter-spacing:0.36px;right:557.84px;">$2,341</div>
<svg class="a" style="left:995px;top:633px;" width="38" height="38" viewBox="0 0 38 38"><defs><clipPath id="tc3"><rect width="38" height="38" rx="4"/></clipPath></defs><g clip-path="url(#tc3)"><rect width="38" height="38" fill="#e7ecec"/><rect x="7.5" width="7" height="38" fill="#bcd3dc"/><rect x="15" width="1.3" height="13" fill="#474b4d"/><rect x="32" width="6" height="38" fill="#a9c6d2"/><ellipse cx="34.5" cy="8" rx="3" ry="5.5" fill="#5f7f62"/><path d="M13 24 Q11 6 21 5 Q29 5 29.5 18 L31 34 L25 36 L24 22 Z" fill="#cdb9a2"/><ellipse cx="20.5" cy="15" rx="4.6" ry="6.2" fill="#dcb7a6"/><path d="M15 24 L22 38 L26.5 38 L24.5 24 Q20 27.5 15 24Z" fill="#eceeee"/><path d="M0 38 L1 30 Q8 24.5 13.5 23.5 L22 38 Z" fill="#8f9a9f"/><path d="M25.5 38 L26.5 28 Q32 27.5 38 32 L38 38Z" fill="#7d878c"/></g></svg>
<div class="t" style="top:637px;font-size:14px;color:#262b3f;font-weight:700;letter-spacing:0.06px;left:1045.5px;">Angelina Hose</div>
<div class="t" style="top:656px;font-size:12.25px;color:#9aa3bd;letter-spacing:0.05px;left:1045.5px;">24 Purchases</div>
<div class="t" style="top:645px;font-size:14px;color:#262b3f;letter-spacing:0.35px;right:557.85px;">2,624</div>
<svg class="a" style="left:995px;top:694px;" width="38" height="38" viewBox="0 0 38 38"><defs><clipPath id="tc4"><rect width="38" height="38" rx="4"/></clipPath></defs><g clip-path="url(#tc4)"><rect width="38" height="38" fill="#ecd6c3"/><rect x="30" width="8" height="38" fill="#f0dece"/><ellipse cx="19" cy="14.5" rx="5.9" ry="7.4" fill="#e2b096"/><path d="M9.8 17 Q7.5 3 19 2.5 Q29.5 3 27.6 14.5 Q25.5 8.5 19 8.2 Q13 8.5 11.6 17Z" fill="#9a5a2a"/><path d="M15 20.5 L23 20.5 L22.5 27 L19 33 L15.5 27Z" fill="#d8a07d"/><path d="M16.6 19.6 h4.6" stroke="#a8262b" stroke-width="1.1"/><path d="M1 38 L3 31 Q8 26 14 24.5 L19 34.5 L24 24.5 Q31 26 35 31 L37 38 Z" fill="#eef0f3"/></g></svg>
<div class="t" style="top:698px;font-size:14px;color:#262b3f;font-weight:700;letter-spacing:0.07px;left:1045.5px;">Selena Deoyl</div>
<div class="t" style="top:717px;font-size:12.25px;color:#9aa3bd;letter-spacing:0.05px;left:1045.5px;">12 Purchases</div>
<div class="t" style="top:706px;font-size:14px;color:#262b3f;letter-spacing:0.36px;right:557.84px;">$1,035</div>
<svg class="a" style="left:995px;top:755px;" width="38" height="38" viewBox="0 0 38 38"><defs><clipPath id="tc5"><rect width="38" height="38" rx="4"/></clipPath></defs><g clip-path="url(#tc5)"><rect width="38" height="38" fill="#bdbdbd"/><rect x="7" width="24" height="22" fill="#d7d7d7" opacity=".85"/><ellipse cx="19.5" cy="14.5" rx="6" ry="7.6" fill="#d3a58d"/><path d="M13 12.5 Q12.3 3.5 20 3 Q27.2 4 26 13.5 Q24 8 19.5 8 Q15 8 13 12.5Z" fill="#2e2522"/><path d="M13.5 15 Q13 25.5 19.5 26.5 Q26 25.5 25.6 15 Q24 20.5 19.5 20.5 Q15 20.5 13.5 15Z" fill="#3a2b25"/><path d="M13 25.5 L16 38 L23.5 38 L25 25.5 Q19 29.5 13 25.5Z" fill="#4a4334"/><path d="M0 38 L1 31 Q6 27 13 25.5 L16.5 38 Z" fill="#6a4438"/><path d="M23 38 L25 25.5 Q33 27 37 31 L38 38Z" fill="#2b2420"/></g></svg>
<div class="t" style="top:759px;font-size:14px;color:#262b3f;font-weight:700;letter-spacing:0.06px;left:1045.5px;">Charlie Davieson</div>
<div class="t" style="top:778px;font-size:12.25px;color:#9aa3bd;letter-spacing:0.05px;left:1045.5px;">15 Purchases</div>
<div class="t" style="top:767px;font-size:14px;color:#262b3f;letter-spacing:0.36px;right:557.84px;">$1,835</div>
<div class="a card" style="left:1407px;top:368px;width:417px;height:451px;"></div>
<div class="t" style="top:390px;font-size:16px;color:#1d2134;font-weight:700;letter-spacing:0.13px;left:1424px;">Sale Value</div>
<div class="a btn" style="left:1775px;top:381px;width:31px;height:31px;"></div>
<div class="a" style="left:1789.5px;top:391.5px;width:2px;height:2px;background:#4b5563;border-radius:50%;"></div>
<div class="a" style="left:1789.5px;top:395.5px;width:2px;height:2px;background:#4b5563;border-radius:50%;"></div>
<div class="a" style="left:1789.5px;top:399.5px;width:2px;height:2px;background:#4b5563;border-radius:50%;"></div>
<div class="a" style="left:1408px;top:425px;width:415px;height:1px;background:#e2e8f0;"></div>
<svg class="a" style="left:0px;top:0px;pointer-events:none;" width="1920" height="900" viewBox="0 0 1920 900"><path d="M1615.3 449.8 A115 115 0 0 1 1647.77 675.12 L1640.48 650.37 A89.2 89.2 0 0 0 1615.3 475.6 Z" fill="#5a66f1"/><path d="M1647.77 675.12 A115 115 0 0 1 1501.36 580.41 L1526.93 576.91 A89.2 89.2 0 0 0 1640.48 650.37 Z" fill="#60a5fa"/><path d="M1501.36 580.41 A115 115 0 0 1 1615.3 449.8 L1615.3 475.6 A89.2 89.2 0 0 0 1526.93 576.91 Z" fill="#5a66f1"/><path d="M1615.3 475.6 v-26" stroke="#8a93f5" stroke-width=".6"/><circle cx="1615.3" cy="564.8" r="72.3" fill="none" stroke="#5a66f1" stroke-width="1.4" stroke-dasharray="5.2 4"/></svg>
<div class="t" style="top:557px;font-size:19px;color:#475569;font-weight:700;letter-spacing:0.86px;left:1315.73px;width:600px;text-align:center;">75%</div>
<div class="a" style="left:1408px;top:704px;width:415px;height:1px;background:#e2e8f0;"></div>
<div class="a" style="left:1615px;top:705px;width:1px;height:113px;background:#e2e8f0;"></div>
<div class="t" style="top:728px;font-size:14px;color:#64748b;letter-spacing:0.26px;left:1211.43px;width:600px;text-align:center;">Sale Items</div>
<div class="t" style="top:748px;font-size:24px;color:#1d2134;letter-spacing:0.49px;left:1211.34px;width:600px;text-align:center;">567</div>
<svg class="a" style="left:1485px;top:785.5px;" width="9" height="6" viewBox="0 0 9 6"><path d="M0 5.6 L4.4 0.8 L8.8 5.6 Z" fill="#22c55e"/></svg>
<div class="t" style="top:780px;font-size:14px;color:#22c55e;letter-spacing:0.38px;left:1497.3px;">0.23%</div>
<div class="t" style="top:728px;font-size:14px;color:#64748b;letter-spacing:0.14px;left:1419.27px;width:600px;text-align:center;">Sale Revenue</div>
<div class="t" style="top:748px;font-size:24px;color:#1d2134;letter-spacing:-0.71px;left:1418.64px;width:600px;text-align:center;">$11,197</div>
<svg class="a" style="left:1695.5px;top:785.8px;" width="9" height="6" viewBox="0 0 9 6"><path d="M0 0.6 L4.4 5.4 L8.8 0.6 Z" fill="#f43f5e"/></svg>
<div class="t" style="top:780px;font-size:14px;color:#f43f5e;letter-spacing:-0.44px;left:1707.3px;">0.15%</div>
<div class="a card" style="left:96px;top:846px;width:417px;height:450px;"></div>
<div class="t" style="top:868px;font-size:16px;color:#1d2134;font-weight:700;left:113.3px;">Upcoming Products</div>
<div class="a btn" style="left:465px;top:859px;width:31px;height:31px;"></div>
<div class="a" style="left:479.5px;top:869.5px;width:2px;height:2px;background:#4b5563;border-radius:50%;"></div>
<div class="a" style="left:479.5px;top:873.5px;width:2px;height:2px;background:#4b5563;border-radius:50%;"></div>
<div class="a" style="left:479.5px;top:877.5px;width:2px;height:2px;background:#4b5563;border-radius:50%;"></div>
<div class="a" style="left:97px;top:903px;width:415px;height:1px;background:#e2e8f0;"></div>
<svg class="a" style="left:121px;top:928px;" width="38" height="38" viewBox="0 0 38 38"><circle cx="19" cy="19" r="19" fill="#cdc8c2"/><rect x="12.6" y="6.9" width="10.6" height="21.6" rx="1" fill="#fff" stroke="#2b2b2b" stroke-width="1"/><path d="M12.6 28.4 H23.2" stroke="#111" stroke-width="1"/></svg>
<div class="t" style="top:932px;font-size:14px;color:#262b3f;font-weight:700;letter-spacing:0.06px;left:167.3px;">Smart Phone</div>
<div class="t" style="top:951px;font-size:12.25px;color:#9aa3bd;letter-spacing:0.36px;left:167.3px;">Mobiles</div>
<div class="t" style="top:932px;font-size:14px;color:#22c55e;font-weight:700;letter-spacing:0.72px;right:1431.28px;">$199.99</div>
<div class="t" style="top:951px;font-size:12.25px;color:#9aa3bd;letter-spacing:0.23px;right:1431.77px;">01 Apr, 2023</div>
<svg class="a" style="left:401px;top:950.9px;" width="10" height="10" viewBox="0 0 10 10"><circle cx="5" cy="5" r="4.2" fill="none" stroke="#9aa3bd" stroke-width="1.1"/><path d="M5 2.6 V5.2 H7.2" fill="none" stroke="#9aa3bd" stroke-width="1"/></svg>
<svg class="a" style="left:121px;top:989px;" width="38" height="38" viewBox="0 0 38 38"><circle cx="19" cy="19" r="19" fill="#f0f0f0"/><path d="M8.5 20 Q8 8.5 18 8 Q27 8 28.5 17" fill="none" stroke="#e3e1de" stroke-width="3"/><ellipse cx="8.8" cy="20" rx="3" ry="5" fill="#e2dfdb"/><ellipse cx="20" cy="25.5" rx="5.5" ry="4" fill="#e0ddd8" transform="rotate(-20 20 25.5)"/></svg>
<div class="t" style="top:993px;font-size:14px;color:#262b3f;font-weight:700;letter-spacing:0.19px;left:167.3px;">White Headphones</div>
<div class="t" style="top:1012px;font-size:12.25px;color:#9aa3bd;letter-spacing:0.38px;left:167.3px;">Music</div>
<div class="t" style="top:993px;font-size:14px;color:#22c55e;font-weight:700;letter-spacing:0.71px;right:1431.29px;">$79.49</div>
<div class="t" style="top:1012px;font-size:12.25px;color:#9aa3bd;letter-spacing:0.23px;right:1431.77px;">01 Apr, 2023</div>
<svg class="a" style="left:401px;top:1011.9px;" width="10" height="10" viewBox="0 0 10 10"><circle cx="5" cy="5" r="4.2" fill="none" stroke="#9aa3bd" stroke-width="1.1"/><path d="M5 2.6 V5.2 H7.2" fill="none" stroke="#9aa3bd" stroke-width="1"/></svg>
<svg class="a" style="left:121px;top:1050px;" width="38" height="38" viewBox="0 0 38 38"><circle cx="19" cy="19" r="19" fill="#c7dcf3"/><circle cx="15.2" cy="13" r="2" fill="#7ea6cc"/><circle cx="22.8" cy="13" r="2" fill="#7ea6cc"/><path d="M14 25.5 L12.8 27.5 M24 25.5 L25.2 27.5" stroke="#7ea6cc" stroke-width="1.2"/><circle cx="19" cy="19.5" r="5.6" fill="#7ea6cc"/><circle cx="19" cy="19.5" r="4" fill="#f3f4f2"/><path d="M19 17 V19.7 H21.6" stroke="#333" stroke-width=".9" fill="none"/></svg>
<div class="t" style="top:1054px;font-size:14px;color:#262b3f;font-weight:700;letter-spacing:0.1px;left:167.3px;">Stop Watch</div>
<div class="t" style="top:1073px;font-size:12.25px;color:#9aa3bd;letter-spacing:0.33px;left:167.3px;">Electronics</div>
<div class="t" style="top:1054px;font-size:14px;color:#22c55e;font-weight:700;letter-spacing:0.71px;right:1431.29px;">$49.29</div>
<div class="t" style="top:1073px;font-size:12.25px;color:#9aa3bd;letter-spacing:0.23px;right:1431.77px;">01 Apr, 2023</div>
<svg class="a" style="left:401px;top:1072.9px;" width="10" height="10" viewBox="0 0 10 10"><circle cx="5" cy="5" r="4.2" fill="none" stroke="#9aa3bd" stroke-width="1.1"/><path d="M5 2.6 V5.2 H7.2" fill="none" stroke="#9aa3bd" stroke-width="1"/></svg>
<svg class="a" style="left:121px;top:1111px;" width="38" height="38" viewBox="0 0 38 38"><circle cx="19" cy="19" r="19" fill="#c4eedd"/><path d="M22 29 L36 24 L31 20 Z" fill="#8cb8a3"/><path d="M8.2 9.5 L20 8.2 L22 10.5 L29 11 L31 13 V25.5 L18 29.5 L9 26 Z" fill="#161a19"/><circle cx="18.5" cy="19.5" r="5.3" fill="#222827"/><circle cx="18.5" cy="19.5" r="2.6" fill="#0b0d0d"/><rect x="24" y="13" width="5.5" height="9" fill="#20302c"/></svg>
<div class="t" style="top:1115px;font-size:14px;color:#262b3f;font-weight:700;letter-spacing:-0.01px;left:167.3px;">Kikon Camera</div>
<div class="t" style="top:1134px;font-size:12.25px;color:#9aa3bd;letter-spacing:0.33px;left:167.3px;">Electronics</div>
<div class="t" style="top:1115px;font-size:14px;color:#22c55e;font-weight:700;letter-spacing:0.69px;right:1431.31px;">$1,699.00</div>
<div class="t" style="top:1134px;font-size:12.25px;color:#9aa3bd;letter-spacing:0.23px;right:1431.77px;">01 Apr, 2023</div>
<svg class="a" style="left:401px;top:1133.9px;" width="10" height="10" viewBox="0 0 10 10"><circle cx="5" cy="5" r="4.2" fill="none" stroke="#9aa3bd" stroke-width="1.1"/><path d="M5 2.6 V5.2 H7.2" fill="none" stroke="#9aa3bd" stroke-width="1"/></svg>
<svg class="a" style="left:121px;top:1172px;" width="38" height="38" viewBox="0 0 38 38"><circle cx="19" cy="19" r="19" fill="#f0b8cb"/><path d="M8.5 10 Q10 6.5 14.5 7 Q18.5 8 18.3 13 L17.5 22 Q15.5 25 11.5 24 Q8 22 8 17Z" fill="#8c8e96"/><path d="M20.5 12 Q21 7 25.5 7 Q30 7.5 30.5 12 L31 19 Q30 24.5 25.5 24.5 Q21.5 24 20.8 20Z" fill="#94969e"/><path d="M9.5 11.5 L17 13 M9.3 14.5 L17 16 M9.5 17.5 L16.8 19 M21.5 12.5 L29.8 11.5 M21.3 15.5 L30 14.5 M21.5 18.5 L30 17.5" stroke="#eeeef3" stroke-width="1.3"/><path d="M10 20 Q13 24 16.5 21.5 M22 21 Q26 25 30 21" stroke="#2a2b30" stroke-width="2" fill="none"/><circle cx="17.5" cy="25.5" r="2.3" fill="#cfd5dc"/><path d="M14.5 28 Q17.5 25.5 21 28.5 L20 33.5 L15 33Z" fill="#c8462f"/></svg>
<div class="t" style="top:1176px;font-size:14px;color:#262b3f;font-weight:700;letter-spacing:-0.02px;left:167.3px;">Kids shoes</div>
<div class="t" style="top:1195px;font-size:12.25px;color:#9aa3bd;letter-spacing:0.34px;left:167.3px;">Clothing</div>
<div class="t" style="top:1176px;font-size:14px;color:#22c55e;font-weight:700;letter-spacing:0.72px;right:1431.28px;">$149.00</div>
<div class="t" style="top:1195px;font-size:12.25px;color:#9aa3bd;letter-spacing:0.23px;right:1431.77px;">01 Apr, 2023</div>
<svg class="a" style="left:401px;top:1194.9px;" width="10" height="10" viewBox="0 0 10 10"><circle cx="5" cy="5" r="4.2" fill="none" stroke="#9aa3bd" stroke-width="1.1"/><path d="M5 2.6 V5.2 H7.2" fill="none" stroke="#9aa3bd" stroke-width="1"/></svg>
<svg class="a" style="left:121px;top:1233px;" width="38" height="38" viewBox="0 0 38 38"><circle cx="19" cy="19" r="19" fill="#d5e7f2"/><rect x="13.2" y="10.8" width="12.6" height="18.6" fill="#dcebf4" stroke="#c9a574" stroke-width="1.5"/><path d="M4.5 10 L8 7.5 L10 10.5 Z M13 7 L16.5 6 L15.5 9.5Z M20 30 L23.5 31.5 L21.5 33.5Z M29 22 L31.5 18.5 L32 24.5Z" fill="#2e5a35"/><circle cx="10.3" cy="8.6" r="2.7" fill="#d63a2c"/><circle cx="27.3" cy="27.2" r="3" fill="#d63a2c"/><circle cx="24.2" cy="30" r="1.6" fill="#d63a2c"/></svg>
<div class="t" style="top:1237px;font-size:14px;color:#262b3f;font-weight:700;left:167.3px;">Photo Frame</div>
<div class="t" style="top:1256px;font-size:12.25px;color:#9aa3bd;letter-spacing:0.33px;left:167.3px;">Furniture</div>
<div class="t" style="top:1237px;font-size:14px;color:#22c55e;font-weight:700;letter-spacing:0.71px;right:1431.29px;">$29.99</div>
<div class="t" style="top:1256px;font-size:12.25px;color:#9aa3bd;letter-spacing:0.23px;right:1431.77px;">01 Apr, 2023</div>
<svg class="a" style="left:401px;top:1255.9px;" width="10" height="10" viewBox="0 0 10 10"><circle cx="5" cy="5" r="4.2" fill="none" stroke="#9aa3bd" stroke-width="1.1"/><path d="M5 2.6 V5.2 H7.2" fill="none" stroke="#9aa3bd" stroke-width="1"/></svg>
<div class="a card" style="left:533px;top:846px;width:563px;height:458px;"></div>
<div class="t" style="top:867px;font-size:16px;color:#1d2134;font-weight:700;left:550.3px;">Social Visitors</div>
<div class="a btn" style="left:961px;top:859px;width:117.5px;height:30px;"></div>
<div class="t" style="top:867px;font-size:14px;color:#98a3b9;letter-spacing:0.24px;left:975.5px;">This Week</div>
<svg class="a" style="left:1054px;top:870.5px;" width="9" height="6" viewBox="0 0 9 6"><path d="M1 1 L4.5 4.5 L8 1" fill="none" stroke="#94a3b8" stroke-width="1.3"/></svg>
<div class="a" style="left:534px;top:901px;width:561px;height:1px;background:#e2e8f0;"></div>
<svg class="a" style="left:0px;top:0px;pointer-events:none;" width="1920" height="1400" viewBox="0 0 1920 1400"><defs><linearGradient id="sg" x1="0" x2="1" y1="0" y2="0"><stop offset="0" stop-color="#60a5fa"/><stop offset="1" stop-color="#5a66f1"/></linearGradient></defs><path d="M625.7 939.9 V1242.3 H1062.4" fill="none" stroke="#e3e8ef" stroke-width="1"/><path d="M626.2 947.4 H740.52 Q742.52 947.4 742.52 949.4 V980.8 Q742.52 982.8 740.52 982.8 H626.2 Z" fill="url(#sg)"/><text x="611.5" y="966.7" text-anchor="end" font-size="12" font-weight="700" fill="#64748b">Facebook</text><path d="M626.2 997.8 H760.88 Q762.88 997.8 762.88 999.8 V1031.2 Q762.88 1033.2 760.88 1033.2 H626.2 Z" fill="url(#sg)"/><text x="611.5" y="1017.1" text-anchor="end" font-size="12" font-weight="700" fill="#64748b">Instagram</text><path d="M626.2 1048.2 H781.23 Q783.23 1048.2 783.23 1050.2 V1081.6 Q783.23 1083.6 781.23 1083.6 H626.2 Z" fill="url(#sg)"/><text x="611.5" y="1067.5" text-anchor="end" font-size="12" font-weight="700" fill="#64748b">Dribble</text><path d="M626.2 1098.6 H824.85 Q826.85 1098.6 826.85 1100.6 V1132 Q826.85 1134 824.85 1134 H626.2 Z" fill="url(#sg)"/><text x="611.5" y="1117.9" text-anchor="end" font-size="12" font-weight="700" fill="#64748b">Twitter</text><path d="M626.2 1149 H944.08 Q946.08 1149 946.08 1151 V1182.4 Q946.08 1184.4 944.08 1184.4 H626.2 Z" fill="url(#sg)"/><text x="611.5" y="1168.3" text-anchor="end" font-size="12" font-weight="700" fill="#64748b">Chrome</text><path d="M626.2 1199.4 H1025.5 Q1027.5 1199.4 1027.5 1201.4 V1232.8 Q1027.5 1234.8 1025.5 1234.8 H626.2 Z" fill="url(#sg)"/><text x="611.5" y="1218.7" text-anchor="end" font-size="12" font-weight="700" fill="#64748b">Pininterest</text><text x="626.2" y="1265" text-anchor="middle" font-size="12" font-weight="700" fill="#64748b">0</text><text x="713.44" y="1265" text-anchor="middle" font-size="12" font-weight="700" fill="#64748b">300</text><text x="800.68" y="1265" text-anchor="middle" font-size="12" font-weight="700" fill="#64748b">600</text><text x="887.92" y="1265" text-anchor="middle" font-size="12" font-weight="700" fill="#64748b">900</text><text x="975.16" y="1265" text-anchor="middle" font-size="12" font-weight="700" fill="#64748b">1200</text><text x="1062.4" y="1265" text-anchor="middle" font-size="12" font-weight="700" fill="#64748b">1500</text></svg>
<div class="a card" style="left:1116px;top:846px;width:708px;height:454px;"></div>
<div class="t" style="top:868px;font-size:16px;color:#1d2134;font-weight:700;letter-spacing:-0.07px;left:1133.5px;">Top Selling Products</div>
<div class="a btn" style="left:1775px;top:859px;width:31px;height:31px;"></div>
<div class="a" style="left:1789.5px;top:869.5px;width:2px;height:2px;background:#4b5563;border-radius:50%;"></div>
<div class="a" style="left:1789.5px;top:873.5px;width:2px;height:2px;background:#4b5563;border-radius:50%;"></div>
<div class="a" style="left:1789.5px;top:877.5px;width:2px;height:2px;background:#4b5563;border-radius:50%;"></div>
<div class="a" style="left:1117px;top:903px;width:706px;height:1px;background:#e2e8f0;"></div>
<div class="a" style="left:1117px;top:904px;width:706px;height:37px;background:#f8fafc;"></div>
<div class="a" style="left:1117px;top:941px;width:706px;height:1px;background:#e2e8f0;"></div>
<div class="t" style="top:916px;font-size:12.25px;color:#475569;font-weight:700;letter-spacing:-0.37px;left:1127.4px;">PRODUCT</div>
<div class="t" style="top:916px;font-size:12.25px;color:#475569;font-weight:700;letter-spacing:-0.26px;left:1482px;">CATEGORY</div>
<div class="t" style="top:916px;font-size:12.25px;color:#475569;font-weight:700;letter-spacing:-0.23px;left:1583.6px;">STOCK</div>
<div class="t" style="top:916px;font-size:12.25px;color:#475569;font-weight:700;letter-spacing:-0.4px;left:1721px;">TOTALSALES</div>
<svg class="a" style="left:1127.4px;top:951.8px;" width="37.5" height="37.5" viewBox="0 0 38 38"><circle cx="19" cy="19" r="19" fill="#eef3f8"/><rect x="16.5" y="9.6" width="5.5" height="3" fill="#c8334a"/><path d="M24 12 Q27.5 14.5 26.5 22" stroke="#e07b3a" stroke-width="1.6" fill="none"/><path d="M12.5 14 Q13 11.5 16 11.5 H22.5 Q25.5 11.5 25.6 14.5 L26 25.5 Q26 28.5 23 28.8 L13.5 28 Q10 27.5 10.3 24Z" fill="#1f7186"/><rect x="15.5" y="13.6" width="6" height="3.2" rx="1" fill="#e07b3a"/><rect x="12.3" y="19.5" width="9.2" height="6.3" rx="1" fill="#2b91a5"/></svg>
<div class="t" style="top:963px;font-size:14px;color:#262b3f;letter-spacing:0.46px;left:1173.5px;">Ethnic School bag for children (24L)</div>
<div class="t" style="top:964px;font-size:14px;color:#475569;letter-spacing:0.56px;left:1482px;">Bags</div>
<div class="a" style="left:1583.2px;top:959.5px;width:70.3px;height:23.3px;background:#e0f6e9;border-radius:4px;"></div>
<div class="t" style="top:966px;font-size:12.25px;color:#22c55e;letter-spacing:0.28px;left:1595.4px;">In Stock</div>
<div class="t" style="top:964px;font-size:14px;color:#334155;letter-spacing:0.63px;left:1721px;">5,093</div>
<div class="a" style="left:1117px;top:1001px;width:706px;height:1px;background:#e2e8f0;"></div>
<svg class="a" style="left:1127.4px;top:1011.55px;" width="37.5" height="37.5" viewBox="0 0 38 38"><circle cx="19" cy="19" r="19" fill="#eef3f8"/><path d="M15 9.5 L18.5 8.7 L22 9.5 L25.5 12 L27 26 L24.3 27.2 L24 25 L23.5 27.8 L19.5 26.5 L19 27.6 L14 27.6 L13.6 25 L13.2 27.2 L10.7 26.5 L12 12.5 Z" fill="#1f1f21"/><path d="M18.7 9.5 V26.5" stroke="#6d6d72" stroke-width=".9"/><path d="M15 11 L17.8 16.5 M22 11 L19.8 16.5" stroke="#4a4a4f" stroke-width=".8"/></svg>
<div class="t" style="top:1023px;font-size:14px;color:#262b3f;letter-spacing:0.39px;left:1173.5px;">Leather jacket for men (S,M,L,XL)</div>
<div class="t" style="top:1024px;font-size:14px;color:#475569;letter-spacing:0.45px;left:1482px;">Clothing</div>
<div class="a" style="left:1583.2px;top:1019.25px;width:70.3px;height:23.3px;background:#e0f6e9;border-radius:4px;"></div>
<div class="t" style="top:1025px;font-size:12.25px;color:#22c55e;letter-spacing:0.28px;left:1595.4px;">In Stock</div>
<div class="t" style="top:1024px;font-size:14px;color:#334155;letter-spacing:0.63px;left:1721px;">6,890</div>
<div class="a" style="left:1117px;top:1060px;width:706px;height:1px;background:#e2e8f0;"></div>
<svg class="a" style="left:1127.4px;top:1071.3px;" width="37.5" height="37.5" viewBox="0 0 38 38"><circle cx="19" cy="19" r="19" fill="#eef3f8"/><path d="M20 10.5 Q25 8.5 26.5 13 L23 14.5Z" fill="#b7d3ec"/><circle cx="26.3" cy="14.8" r="1.6" fill="#cfe2f3"/><circle cx="13.8" cy="12.6" r="2.2" fill="#c98a3c"/><circle cx="18.5" cy="15" r="5" fill="#d9a04e"/><circle cx="18.5" cy="16.6" r="1.9" fill="#f0d7ac"/><circle cx="18.5" cy="15.8" r=".8" fill="#2a1a10"/><path d="M12.5 21.5 Q18.8 18 25.5 21.5 L26 28 H12Z" fill="#bcd7ef"/><circle cx="19" cy="24" r="1.7" fill="#e0583a"/><circle cx="11.3" cy="26" r="2.4" fill="#d9a04e"/><circle cx="26.8" cy="26" r="2.4" fill="#d9a04e"/><rect x="13" y="27.5" width="12" height="2" fill="#d4e4f2"/></svg>
<div class="t" style="top:1083px;font-size:14px;color:#262b3f;letter-spacing:0.54px;left:1173.5px;">Childrens Teddy toy of high quality</div>
<div class="t" style="top:1084px;font-size:14px;color:#475569;letter-spacing:0.5px;left:1482px;">Toys</div>
<div class="a" style="left:1583.2px;top:1079px;width:97.5px;height:23.3px;background:#fde3e8;border-radius:4px;"></div>
<div class="t" style="top:1085px;font-size:12.25px;color:#f43f5e;letter-spacing:0.28px;left:1595.4px;">Out Of Stock</div>
<div class="t" style="top:1084px;font-size:14px;color:#334155;letter-spacing:0.63px;left:1721px;">5,423</div>
<div class="a" style="left:1117px;top:1120px;width:706px;height:1px;background:#e2e8f0;"></div>
<svg class="a" style="left:1127.4px;top:1131.05px;" width="37.5" height="37.5" viewBox="0 0 38 38"><circle cx="19" cy="19" r="19" fill="#eef3f8"/><path d="M16 10.5 Q19.5 8.2 23.5 10 Q27 13 26.8 19.5 Q26.5 25.5 23 28 Q19 29.5 15.5 26.8 L18.5 25.5 Q22 24 22 19 Q22 14 18.5 12.5 Z" fill="#f4564d"/><path d="M22.3 11 Q24.3 19 22.3 27" stroke="#f9d9d3" stroke-width="1.3" fill="none"/><rect x="10.7" y="13.3" width="7.6" height="10.4" rx="1.6" fill="#17171a"/><rect x="12" y="15" width="5" height="7" fill="#2c2630"/></svg>
<div class="t" style="top:1142px;font-size:14px;color:#262b3f;letter-spacing:0.57px;left:1173.5px;">Orange smart watch (24mm)</div>
<div class="t" style="top:1144px;font-size:14px;color:#475569;letter-spacing:0.5px;left:1482px;">Fashion</div>
<div class="a" style="left:1583.2px;top:1138.75px;width:97.5px;height:23.3px;background:#fde3e8;border-radius:4px;"></div>
<div class="t" style="top:1145px;font-size:12.25px;color:#f43f5e;letter-spacing:0.28px;left:1595.4px;">Out Of Stock</div>
<div class="t" style="top:1144px;font-size:14px;color:#334155;letter-spacing:0.64px;left:1721px;">10,234</div>
<div class="a" style="left:1117px;top:1180px;width:706px;height:1px;background:#e2e8f0;"></div>
<svg class="a" style="left:1127.4px;top:1190.8px;" width="37.5" height="37.5" viewBox="0 0 38 38"><circle cx="19" cy="19" r="19" fill="#eef3f8"/><path d="M10 15 Q10 13 12 13 L14.5 12.5 L16 10 Q19 8.5 22.5 10.5 L25.5 14 L27 21 L22 26 L11 25.5 Q9.5 21 10 15Z" fill="#19191b"/><circle cx="23" cy="22" r="4.7" fill="#1f1f22"/><circle cx="23.6" cy="22.3" r="2.7" fill="#3a3320"/><circle cx="24" cy="22.4" r="1.5" fill="#8c7a2a"/></svg>
<div class="t" style="top:1202px;font-size:14px;color:#262b3f;letter-spacing:0.3px;left:1173.5px;">Black Camera</div>
<div class="t" style="top:1204px;font-size:14px;color:#475569;letter-spacing:0.43px;left:1482px;">Electronic</div>
<div class="a" style="left:1583.2px;top:1198.5px;width:70.3px;height:23.3px;background:#e0f6e9;border-radius:4px;"></div>
<div class="t" style="top:1204px;font-size:12.25px;color:#22c55e;letter-spacing:0.28px;left:1595.4px;">In Stock</div>
<div class="t" style="top:1204px;font-size:14px;color:#334155;letter-spacing:0.64px;left:1721px;">10,234</div>
<div class="a" style="left:1117px;top:1240px;width:706px;height:1px;background:#e2e8f0;"></div>
<svg class="a" style="left:1127.4px;top:1250.55px;" width="37.5" height="37.5" viewBox="0 0 38 38"><circle cx="19" cy="19" r="19" fill="#eef3f8"/><path d="M14.5 17 Q14.5 10.5 19 10.5 Q23.5 10.5 23.8 16.5" fill="none" stroke="#d98896" stroke-width="1.5"/><path d="M12 16.5 Q19 13.5 26 16.5 L27.5 24 Q28 27.5 25 27.8 L13 28 Q9.8 27.6 10.3 24Z" fill="#b3445c"/><path d="M12 16.5 Q19 13.5 26 16.5 L26.5 20 Q19 23 11.5 20Z" fill="#c05970"/><circle cx="18.8" cy="20.8" r="1.1" fill="#e9c98a"/><rect x="27" y="21.5" width="1.7" height="4.5" fill="#a03a52"/><rect x="9.2" y="22" width="1.5" height="4" fill="#a03a52"/></svg>
<div class="t" style="top:1262px;font-size:14px;color:#262b3f;letter-spacing:0.27px;left:1173.5px;">Hand Bag For Ladies</div>
<div class="t" style="top:1263px;font-size:14px;color:#475569;letter-spacing:0.5px;left:1482px;">Fashion</div>
<div class="a" style="left:1583.2px;top:1258.25px;width:97.5px;height:23.3px;background:#fde3e8;border-radius:4px;"></div>
<div class="t" style="top:1264px;font-size:12.25px;color:#f43f5e;letter-spacing:0.28px;left:1595.4px;">Out Of Stock</div>
<div class="t" style="top:1263px;font-size:14px;color:#334155;letter-spacing:0.63px;left:1721px;">1,034</div>
<div class="a card" style="left:96px;top:1328px;width:1728px;height:620px;"></div>
<div class="t" style="top:1349px;font-size:16px;color:#1d2134;font-weight:700;letter-spacing:0.05px;left:113.3px;">Recent Order Details</div>
<div class="a btn" style="left:1705px;top:1341px;width:102px;height:30px;"></div>
<div class="t" style="top:1349px;font-size:14px;color:#98a3b9;letter-spacing:0.53px;left:1719.5px;">View All</div>
<svg class="a" style="left:1782.3px;top:1352.8px;" width="9" height="6" viewBox="0 0 9 6"><path d="M1 1 L4.5 4.5 L8 1" fill="none" stroke="#94a3b8" stroke-width="1.3"/></svg>
<div class="a" style="left:97px;top:1383px;width:1726px;height:1px;background:#e2e8f0;"></div>
<div class="a" style="left:121px;top:1408px;width:1678px;height:516px;border:1px solid #e2e8f0;border-radius:3px;background:#fff;"></div>
<div class="a" style="left:122px;top:1409px;width:1676px;height:41px;background:#f8fafc;"></div>
<div class="a" style="left:121px;top:1449px;width:1678px;height:1px;background:#e2e8f0;"></div>
<div class="a" style="left:121px;top:1528px;width:1678px;height:1px;background:#e2e8f0;"></div>
<div class="a" style="left:121px;top:1607px;width:1678px;height:1px;background:#e2e8f0;"></div>
<div class="a" style="left:121px;top:1686px;width:1678px;height:1px;background:#e2e8f0;"></div>
<div class="a" style="left:121px;top:1765px;width:1678px;height:1px;background:#e2e8f0;"></div>
<div class="a" style="left:121px;top:1844px;width:1678px;height:1px;background:#e2e8f0;"></div>
<div class="a" style="left:218px;top:1408px;width:1px;height:515px;background:#e2e8f0;"></div>
<div class="a" style="left:573px;top:1408px;width:1px;height:515px;background:#e2e8f0;"></div>
<div class="a" style="left:736px;top:1408px;width:1px;height:515px;background:#e2e8f0;"></div>
<div class="a" style="left:1107px;top:1408px;width:1px;height:515px;background:#e2e8f0;"></div>
<div class="a" style="left:1280px;top:1408px;width:1px;height:515px;background:#e2e8f0;"></div>
<div class="a" style="left:1485px;top:1408px;width:1px;height:515px;background:#e2e8f0;"></div>
<div class="a" style="left:1590px;top:1408px;width:1px;height:515px;background:#e2e8f0;"></div>
<div class="t" style="top:1423px;font-size:12.25px;color:#475569;font-weight:700;letter-spacing:-0.16px;left:146px;">S.NO</div>
<div class="t" style="top:1423px;font-size:12.25px;color:#475569;font-weight:700;letter-spacing:-0.25px;left:243.3px;">ITEM DETAILS</div>
<div class="t" style="top:1423px;font-size:12.25px;color:#475569;font-weight:700;letter-spacing:-0.23px;left:598.4px;">CUSTOMER ID</div>
<div class="t" style="top:1423px;font-size:12.25px;color:#475569;font-weight:700;letter-spacing:-0.27px;left:761.5px;">CUSTOMER DETAILS</div>
<div class="t" style="top:1423px;font-size:12.25px;color:#475569;font-weight:700;letter-spacing:-0.55px;left:1132.4px;">ORDERED DATE</div>
<div class="t" style="top:1423px;font-size:12.25px;color:#475569;font-weight:700;letter-spacing:-0.11px;left:1305.5px;">STATUS</div>
<div class="t" style="top:1423px;font-size:12.25px;color:#475569;font-weight:700;letter-spacing:-0.49px;left:1510px;">PRICE</div>
<div class="t" style="top:1423px;font-size:12.25px;color:#475569;font-weight:700;letter-spacing:-0.08px;left:1615px;">ACTION</div>
<div class="t" style="top:1482px;font-size:14px;color:#334155;letter-spacing:0.62px;left:146px;">1</div>
<div class="a" style="left:243.3px;top:1466.4px;width:45.5px;height:45.5px;background:#eef3f8;border-radius:4px;"></div>
<svg class="a" style="left:243.3px;top:1466.4px;" width="45.5" height="45.5" viewBox="0 0 45.5 45.5"><g stroke="#151517" fill="none" stroke-linecap="round"><path d="M10.8 12.2 H26.3" stroke-width="2.6"/><path d="M12 13.4 L16 21" stroke-width="4"/><path d="M12.7 20.5 L13.6 31.8" stroke-width="1.7"/><path d="M15.5 20 Q22 28.6 33 30.7 L35.3 31" stroke-width="2.1"/><path d="M25.3 13 L30 28" stroke-width="1.5"/><path d="M29.2 27.6 L34.8 29.7" stroke-width="3.2"/></g></svg>
<div class="t" style="top:1474px;font-size:14px;color:#262b3f;font-weight:700;letter-spacing:-0.06px;left:301.1px;">Black Heals For Women</div>
<div class="t" style="top:1493px;font-size:12.25px;color:#9aa3bd;letter-spacing:0.48px;left:301.1px;">#2343</div>
<div class="t" style="top:1482px;font-size:14px;color:#22c55e;letter-spacing:0.2px;left:598.4px;">#user1</div>
<svg class="a" style="left:761.3px;top:1470.2px;" width="38" height="38" viewBox="0 0 38 38"><defs><clipPath id="od0"><rect width="38" height="38" rx="4"/></clipPath></defs><g clip-path="url(#od0)"><rect width="38" height="38" fill="#dcdcdb"/><rect width="3.2" height="38" fill="#b2b3b0"/><rect x="4.6" width="2.2" height="38" fill="#c6c6c4"/><path d="M10 25 Q9 3 19 2 Q27.5 3 28 14 L30.5 25 L22 27 Z" fill="#33241f"/><ellipse cx="16.6" cy="14" rx="4.7" ry="6.1" fill="#dcb3a3"/><path d="M7.5 38 L10 26 Q12 19 15.2 20.2 L14.2 26.5 L16.5 38 Z" fill="#d9b3a4"/><path d="M15.5 38 L17 26.5 L22.5 25 L22.5 38 Z" fill="#dfe3ee"/><path d="M21.5 38 L20.5 27 L24 21 L33 22.5 Q36 25 36.5 38 Z" fill="#1c1c1d"/><path d="M5.5 38 L7.5 30.5 L11 31 L14.5 38Z" fill="#2b2a2a"/></g></svg>
<div class="t" style="top:1474px;font-size:14px;color:#262b3f;font-weight:700;letter-spacing:0.06px;left:811.7px;">Socrates Itumay</div>
<div class="t" style="top:1493px;font-size:12.25px;color:#9aa3bd;letter-spacing:0.2px;left:811.7px;">socratesitumay@gmail.com</div>
<div class="t" style="top:1482px;font-size:14px;color:#334155;letter-spacing:0.59px;left:1132.4px;">10-12-2022</div>
<div class="a" style="left:1305px;top:1474.9px;width:72px;height:24px;background:#e2f7eb;border-radius:12px;"></div>
<div class="t" style="top:1481px;font-size:12px;color:#22c55e;letter-spacing:0.32px;left:1317.8px;">Success</div>
<div class="t" style="top:1482px;font-size:14px;color:#334155;letter-spacing:0.96px;left:1510px;">$999</div>
<div class="a" style="left:1615px;top:1473.5px;width:31.5px;height:31.5px;background:#eeeffd;border-radius:50%;"></div>
<div class="a" style="left:1658.7px;top:1473.5px;width:31.5px;height:31.5px;background:#ecf4fe;border-radius:50%;"></div>
<div class="a" style="left:1702px;top:1473.5px;width:31.5px;height:31.5px;background:#fee7eb;border-radius:50%;"></div>
<svg class="a" style="left:1624.75px;top:1484.7px;" width="12" height="9" viewBox="0 0 12 9"><path d="M0.7 4.5 Q6 -1.6 11.3 4.5 Q6 10.6 0.7 4.5Z" fill="none" stroke="#5a66f1" stroke-width="1.2"/><circle cx="6" cy="4.5" r="1.6" fill="none" stroke="#5a66f1" stroke-width="1.2"/></svg>
<svg class="a" style="left:1668.65px;top:1484px;" width="12" height="12" viewBox="0 0 12 12"><path d="M1.3 10.7 L1.8 8 L8.3 1.5 Q9.2 .7 10.1 1.6 Q11 2.5 10.2 3.4 L3.8 10 Z M7.2 2.7 L9 4.5" fill="none" stroke="#60a5fa" stroke-width="1.1" stroke-linejoin="round"/></svg>
<svg class="a" style="left:1712.95px;top:1484px;" width="11" height="12" viewBox="0 0 11 12"><path d="M0.6 2.6 H10.4 M3.6 2.4 V.8 H7.4 V2.4 M1.7 2.8 L2.3 11.2 H8.7 L9.3 2.8 M4.3 5 V9 M6.7 5 V9" fill="none" stroke="#f43f5e" stroke-width="1.1" stroke-linejoin="round"/></svg>
<div class="t" style="top:1561px;font-size:14px;color:#334155;letter-spacing:0.62px;left:146px;">2</div>
<div class="a" style="left:243.3px;top:1545.4px;width:45px;height:45.5px;background:#eef3f8;border-radius:4px;"></div>
<svg class="a" style="left:243.05px;top:1545.4px;" width="45.5" height="45.5" viewBox="0 0 45.5 45.5"><path d="M17 9 L20.5 8 Q22.5 10.2 25 8 L28.5 9 L33 12.5 L34 31 L30.5 31.6 L30 18 L29.8 35.3 Q22.5 36.8 15.7 35.3 L15.5 18 L15 31.6 L11.6 31 L12.5 12.5 Z" fill="#eeeeee" stroke="#dfe2e6" stroke-width=".7"/><path d="M20.5 8 Q22.5 10.2 25 8" stroke="#3a3a3f" stroke-width="1" fill="none"/></svg>
<div class="t" style="top:1553px;font-size:14px;color:#262b3f;font-weight:700;letter-spacing:0.22px;left:300.6px;">White Tshirt</div>
<div class="t" style="top:1572px;font-size:12.25px;color:#9aa3bd;letter-spacing:0.48px;left:300.6px;">#5655</div>
<div class="t" style="top:1561px;font-size:14px;color:#22c55e;letter-spacing:0.45px;left:598.4px;">#user2</div>
<svg class="a" style="left:761.3px;top:1549.2px;" width="38" height="38" viewBox="0 0 38 38"><defs><clipPath id="od1"><rect width="38" height="38" rx="4"/></clipPath></defs><g clip-path="url(#od1)"><rect width="38" height="38" fill="#4b4a50"/><rect y="18" width="38" height="20" fill="#5a5b61"/><rect width="38" height="3" fill="#1d1b1e"/><ellipse cx="3.5" cy="8.5" rx="2.6" ry="5" fill="#ece8e3"/><ellipse cx="30.5" cy="7.5" rx="5.5" ry="3.8" fill="#e9cdb9"/><ellipse cx="9" cy="6" rx="2" ry="2.4" fill="#aaa49f"/><path d="M10.5 25 Q8.5 6 18 4 Q28 4 28.5 16 Q33 22 31 28 L24 27 Z" fill="#2c1d1e"/><ellipse cx="18" cy="14.5" rx="5.2" ry="6.8" fill="#dda694"/><rect x="15.5" y="19.5" width="5.5" height="6" fill="#d39a88"/><path d="M15.8 18.2 Q18 19.8 20.4 18.2" stroke="#b3202d" stroke-width="1.1" fill="none"/><path d="M2.5 38 L4 30 Q8 25.5 14 24.5 Q18 26.5 23 24.5 Q31 26 34 31 L35.5 38 Z" fill="#9a0f2c"/></g></svg>
<div class="t" style="top:1553px;font-size:14px;color:#262b3f;font-weight:700;left:811.7px;">Json Taylor</div>
<div class="t" style="top:1572px;font-size:12.25px;color:#9aa3bd;letter-spacing:0.17px;left:811.7px;">jsontaylor2416@gmail.com</div>
<div class="t" style="top:1561px;font-size:14px;color:#334155;letter-spacing:0.69px;left:1132.4px;">11-12-2022</div>
<div class="a" style="left:1305px;top:1553.9px;width:74.5px;height:24px;background:#eaedfb;border-radius:12px;"></div>
<div class="t" style="top:1560px;font-size:12px;color:#6f83dd;letter-spacing:0.29px;left:1317.8px;">Shipping</div>
<div class="t" style="top:1561px;font-size:14px;color:#334155;letter-spacing:0.96px;left:1510px;">$699</div>
<div class="a" style="left:1615px;top:1552.5px;width:31.5px;height:31.5px;background:#eeeffd;border-radius:50%;"></div>
<div class="a" style="left:1658.7px;top:1552.5px;width:31.5px;height:31.5px;background:#ecf4fe;border-radius:50%;"></div>
<div class="a" style="left:1702px;top:1552.5px;width:31.5px;height:31.5px;background:#fee7eb;border-radius:50%;"></div>
<svg class="a" style="left:1624.75px;top:1563.7px;" width="12" height="9" viewBox="0 0 12 9"><path d="M0.7 4.5 Q6 -1.6 11.3 4.5 Q6 10.6 0.7 4.5Z" fill="none" stroke="#5a66f1" stroke-width="1.2"/><circle cx="6" cy="4.5" r="1.6" fill="none" stroke="#5a66f1" stroke-width="1.2"/></svg>
<svg class="a" style="left:1668.65px;top:1563px;" width="12" height="12" viewBox="0 0 12 12"><path d="M1.3 10.7 L1.8 8 L8.3 1.5 Q9.2 .7 10.1 1.6 Q11 2.5 10.2 3.4 L3.8 10 Z M7.2 2.7 L9 4.5" fill="none" stroke="#60a5fa" stroke-width="1.1" stroke-linejoin="round"/></svg>
<svg class="a" style="left:1712.95px;top:1563px;" width="11" height="12" viewBox="0 0 11 12"><path d="M0.6 2.6 H10.4 M3.6 2.4 V.8 H7.4 V2.4 M1.7 2.8 L2.3 11.2 H8.7 L9.3 2.8 M4.3 5 V9 M6.7 5 V9" fill="none" stroke="#f43f5e" stroke-width="1.1" stroke-linejoin="round"/></svg>
<div class="t" style="top:1640px;font-size:14px;color:#334155;letter-spacing:0.62px;left:146px;">3</div>
<div class="a" style="left:243.3px;top:1624.4px;width:42px;height:45.5px;background:#eef3f8;border-radius:4px;"></div>
<svg class="a" style="left:241.55px;top:1624.4px;" width="45.5" height="45.5" viewBox="0 0 45.5 45.5"><path d="M18 10 Q22.5 6.5 27 10 L31 14 L33.5 30.5 L30.5 31.5 L29.5 24 L29 33.5 L16 33.5 L15.6 24 L14.5 31.5 L11.5 30.5 L14 14 Z" fill="#a9adb3"/><path d="M18.2 12 Q22.5 8.5 26.8 12 L26.5 34.5 L18.5 34.5 Z" fill="#1e8ab0"/><path d="M18 10 Q22.5 6.5 27 10 L25.3 12.3 Q22.5 10 19.7 12.3Z" fill="#b9bdc2"/><rect x="23.4" y="16.5" width="2" height="2" fill="#eef"/></svg>
<div class="t" style="top:1632px;font-size:14px;color:#262b3f;font-weight:700;letter-spacing:0.11px;left:297.6px;">Jacket For Men</div>
<div class="t" style="top:1651px;font-size:12.25px;color:#9aa3bd;letter-spacing:0.48px;left:297.6px;">#15245</div>
<div class="t" style="top:1640px;font-size:14px;color:#22c55e;letter-spacing:0.45px;left:598.4px;">#user3</div>
<svg class="a" style="left:761.3px;top:1628.2px;" width="38" height="38" viewBox="0 0 38 38"><defs><clipPath id="od2"><rect width="38" height="38" rx="4"/></clipPath></defs><g clip-path="url(#od2)"><rect width="38" height="38" fill="#f4a9ae"/><path d="M12.5 22.5 Q10.5 4 19 2 Q27.5 3 26.5 22.5 Z" fill="#5b3a2b"/><ellipse cx="19.3" cy="11.5" rx="4.3" ry="5.8" fill="#e7b7a4"/><rect x="17" y="16" width="4.5" height="6.5" fill="#e2b09c"/><path d="M6.5 38 L7.5 27 Q10 22.5 15 22 L19.5 26.5 L24 22 Q30 23 31.5 27 L33 38 Z" fill="#f6d6d1"/><path d="M13.5 38 L14.5 25 L18.5 17.5 L20.6 18.6 L18.2 25 L18.2 38 Z" fill="#e7b7a4"/></g></svg>
<div class="t" style="top:1632px;font-size:14px;color:#262b3f;font-weight:700;letter-spacing:0.02px;left:811.7px;">Suzika Stallone</div>
<div class="t" style="top:1651px;font-size:12.25px;color:#9aa3bd;letter-spacing:0.16px;left:811.7px;">suzikastallone3214@gmail.com</div>
<div class="t" style="top:1640px;font-size:14px;color:#334155;letter-spacing:0.59px;left:1132.4px;">12-12-2022</div>
<div class="a" style="left:1305px;top:1632.9px;width:116.5px;height:24px;background:#fdf6e2;border-radius:12px;"></div>
<div class="t" style="top:1639px;font-size:12px;color:#e9b21c;letter-spacing:0.27px;left:1317.8px;">Out For Delivery</div>
<div class="t" style="top:1640px;font-size:14px;color:#334155;letter-spacing:0.96px;left:1510px;">$599</div>
<div class="a" style="left:1615px;top:1631.5px;width:31.5px;height:31.5px;background:#eeeffd;border-radius:50%;"></div>
<div class="a" style="left:1658.7px;top:1631.5px;width:31.5px;height:31.5px;background:#ecf4fe;border-radius:50%;"></div>
<div class="a" style="left:1702px;top:1631.5px;width:31.5px;height:31.5px;background:#fee7eb;border-radius:50%;"></div>
<svg class="a" style="left:1624.75px;top:1642.7px;" width="12" height="9" viewBox="0 0 12 9"><path d="M0.7 4.5 Q6 -1.6 11.3 4.5 Q6 10.6 0.7 4.5Z" fill="none" stroke="#5a66f1" stroke-width="1.2"/><circle cx="6" cy="4.5" r="1.6" fill="none" stroke="#5a66f1" stroke-width="1.2"/></svg>
<svg class="a" style="left:1668.65px;top:1642px;" width="12" height="12" viewBox="0 0 12 12"><path d="M1.3 10.7 L1.8 8 L8.3 1.5 Q9.2 .7 10.1 1.6 Q11 2.5 10.2 3.4 L3.8 10 Z M7.2 2.7 L9 4.5" fill="none" stroke="#60a5fa" stroke-width="1.1" stroke-linejoin="round"/></svg>
<svg class="a" style="left:1712.95px;top:1642px;" width="11" height="12" viewBox="0 0 11 12"><path d="M0.6 2.6 H10.4 M3.6 2.4 V.8 H7.4 V2.4 M1.7 2.8 L2.3 11.2 H8.7 L9.3 2.8 M4.3 5 V9 M6.7 5 V9" fill="none" stroke="#f43f5e" stroke-width="1.1" stroke-linejoin="round"/></svg>
<div class="t" style="top:1719px;font-size:14px;color:#334155;letter-spacing:0.62px;left:146px;">4</div>
<div class="a" style="left:243.3px;top:1703.4px;width:45.5px;height:45.5px;background:#eef3f8;border-radius:4px;"></div>
<svg class="a" style="left:243.3px;top:1703.4px;" width="45.5" height="45.5" viewBox="0 0 45.5 45.5"><path d="M10 13 Q10 10.3 12.8 10.7 L19 12 Q20.6 12.6 20.6 14.5 V32.5 Q20.6 35 18.3 34.6 L12 33.2 Q10 32.6 10 30.5Z" fill="#c81a1c"/><path d="M10 13 Q10 10.3 12.8 10.7 L14 11 V33.6 L12 33.2 Q10 32.6 10 30.5Z" fill="#a81216"/><ellipse cx="28.3" cy="19.5" rx="2.5" ry="2.8" fill="#cf1d1f"/><rect x="29.2" y="19.5" width="1.9" height="14.5" rx=".9" fill="#c81a1c"/><ellipse cx="35" cy="18.2" rx="2.5" ry="2.8" fill="#cf1d1f"/><rect x="33.2" y="18.5" width="1.9" height="15.5" rx=".9" fill="#c81a1c"/></svg>
<div class="t" style="top:1711px;font-size:14px;color:#262b3f;font-weight:700;letter-spacing:-0.06px;left:301.1px;">Airpods</div>
<div class="t" style="top:1730px;font-size:12.25px;color:#9aa3bd;letter-spacing:0.48px;left:301.1px;">#45415</div>
<div class="t" style="top:1719px;font-size:14px;color:#22c55e;letter-spacing:0.45px;left:598.4px;">#user4</div>
<svg class="a" style="left:761.3px;top:1707.2px;" width="38" height="38" viewBox="0 0 38 38"><defs><clipPath id="od3"><rect width="38" height="38" rx="4"/></clipPath></defs><g clip-path="url(#od3)"><rect width="38" height="38" fill="#e7ecec"/><rect x="7.5" width="7" height="38" fill="#bcd3dc"/><rect x="15" width="1.3" height="13" fill="#474b4d"/><rect x="32" width="6" height="38" fill="#a9c6d2"/><ellipse cx="34.5" cy="8" rx="3" ry="5.5" fill="#5f7f62"/><path d="M13 24 Q11 6 21 5 Q29 5 29.5 18 L31 34 L25 36 L24 22 Z" fill="#cdb9a2"/><ellipse cx="20.5" cy="15" rx="4.6" ry="6.2" fill="#dcb7a6"/><path d="M15 24 L22 38 L26.5 38 L24.5 24 Q20 27.5 15 24Z" fill="#eceeee"/><path d="M0 38 L1 30 Q8 24.5 13.5 23.5 L22 38 Z" fill="#8f9a9f"/><path d="M25.5 38 L26.5 28 Q32 27.5 38 32 L38 38Z" fill="#7d878c"/></g></svg>
<div class="t" style="top:1711px;font-size:14px;color:#262b3f;font-weight:700;letter-spacing:0.03px;left:811.7px;">Selena Deoyl</div>
<div class="t" style="top:1730px;font-size:12.25px;color:#9aa3bd;letter-spacing:0.1px;left:811.7px;">selenadeoyl114@gmail.com</div>
<div class="t" style="top:1719px;font-size:14px;color:#334155;letter-spacing:0.59px;left:1132.4px;">12-12-2022</div>
<div class="a" style="left:1305px;top:1711.9px;width:81.5px;height:24px;background:#fee5e9;border-radius:12px;"></div>
<div class="t" style="top:1718px;font-size:12px;color:#f43f5e;letter-spacing:0.3px;left:1317.8px;">Cancelled</div>
<div class="t" style="top:1719px;font-size:14px;color:#334155;letter-spacing:0.96px;left:1510px;">$299</div>
<div class="a" style="left:1615px;top:1710.5px;width:31.5px;height:31.5px;background:#eeeffd;border-radius:50%;"></div>
<div class="a" style="left:1658.7px;top:1710.5px;width:31.5px;height:31.5px;background:#ecf4fe;border-radius:50%;"></div>
<div class="a" style="left:1702px;top:1710.5px;width:31.5px;height:31.5px;background:#fee7eb;border-radius:50%;"></div>
<svg class="a" style="left:1624.75px;top:1721.7px;" width="12" height="9" viewBox="0 0 12 9"><path d="M0.7 4.5 Q6 -1.6 11.3 4.5 Q6 10.6 0.7 4.5Z" fill="none" stroke="#5a66f1" stroke-width="1.2"/><circle cx="6" cy="4.5" r="1.6" fill="none" stroke="#5a66f1" stroke-width="1.2"/></svg>
<svg class="a" style="left:1668.65px;top:1721px;" width="12" height="12" viewBox="0 0 12 12"><path d="M1.3 10.7 L1.8 8 L8.3 1.5 Q9.2 .7 10.1 1.6 Q11 2.5 10.2 3.4 L3.8 10 Z M7.2 2.7 L9 4.5" fill="none" stroke="#60a5fa" stroke-width="1.1" stroke-linejoin="round"/></svg>
<svg class="a" style="left:1712.95px;top:1721px;" width="11" height="12" viewBox="0 0 11 12"><path d="M0.6 2.6 H10.4 M3.6 2.4 V.8 H7.4 V2.4 M1.7 2.8 L2.3 11.2 H8.7 L9.3 2.8 M4.3 5 V9 M6.7 5 V9" fill="none" stroke="#f43f5e" stroke-width="1.1" stroke-linejoin="round"/></svg>
<div class="t" style="top:1798px;font-size:14px;color:#334155;letter-spacing:0.62px;left:146px;">5</div>
<div class="a" style="left:243.3px;top:1782.4px;width:40.7px;height:45.5px;background:#eef3f8;border-radius:4px;"></div>
<svg class="a" style="left:240.9px;top:1782.4px;" width="45.5" height="45.5" viewBox="0 0 45.5 45.5"><path d="M13.5 29 Q13 22.5 20.3 22 Q27.5 22.5 27 29 Q26.5 33 24.5 34 L24.8 36 H15.8 L16 34 Q14 33 13.5 29Z" fill="#e9a425"/><ellipse cx="18.3" cy="28" rx="2.2" ry="3.6" fill="#f7cf63"/><path d="M16 34 H24.6 L24.8 36 H15.8Z" fill="#b87a1a"/><path d="M17 15 L20.5 18 L24.5 14 L26.8 18.5 L23 22.5 H18 L15.5 19Z" fill="#c98a2a"/><path d="M19.5 11 Q21 9 22 11.5 L21 15 L19.8 14Z" fill="#d7a94a"/><circle cx="22.3" cy="19.3" r="1.4" fill="#6a3b1c"/></svg>
<div class="t" style="top:1790px;font-size:14px;color:#262b3f;font-weight:700;letter-spacing:0.05px;left:296.3px;">Jasmine Fragrance</div>
<div class="t" style="top:1809px;font-size:12.25px;color:#9aa3bd;letter-spacing:0.48px;left:296.3px;">#35656</div>
<div class="t" style="top:1798px;font-size:14px;color:#22c55e;letter-spacing:0.45px;left:598.4px;">#user5</div>
<svg class="a" style="left:761.3px;top:1786.2px;" width="38" height="38" viewBox="0 0 38 38"><defs><clipPath id="od4"><rect width="38" height="38" rx="4"/></clipPath></defs><g clip-path="url(#od4)"><rect width="38" height="38" fill="#aeb0b6"/><path d="M26 10 Q34 20 31 35 L24 30Z" fill="#8f9198"/><ellipse cx="19" cy="17.5" rx="7" ry="9.6" fill="#e3b59f"/><path d="M10.3 16.5 Q8.8 4 18 2.5 Q28.5 2 27.8 15.5 Q26 9 22 8.2 Q14 8 11.6 16.5Z" fill="#4a3426"/><path d="M12.4 20 Q13 30 19 31.2 Q25.5 30 26 20 Q24 27.2 19 27.2 Q14 27.2 12.4 20Z" fill="#8a6450" opacity=".75"/><path d="M11.3 15.3 H27.2" stroke="#2a2a2a" stroke-width="1.4"/><path d="M16 23.5 Q19 25.6 22.5 23.5" stroke="#7a2030" stroke-width="1.1" fill="none"/><path d="M13.5 28 Q19 37 25.5 28 L25.5 33 Q19 40 13.5 33Z" fill="#c98e6e"/><path d="M2 38 L5 34 Q10 31 13.2 30.5 Q19 38.5 26 30.5 Q31 31 36 35 L38 38Z" fill="#f1f3f4"/></g></svg>
<div class="t" style="top:1790px;font-size:14px;color:#262b3f;font-weight:700;letter-spacing:-0.18px;left:811.7px;">Roman Killon</div>
<div class="t" style="top:1809px;font-size:12.25px;color:#9aa3bd;letter-spacing:0.11px;left:811.7px;">romankillon143@gmail.com</div>
<div class="t" style="top:1798px;font-size:14px;color:#334155;letter-spacing:0.59px;left:1132.4px;">13-12-2022</div>
<div class="a" style="left:1305px;top:1790.9px;width:71px;height:24px;background:#ececfd;border-radius:12px;"></div>
<div class="t" style="top:1797px;font-size:12px;color:#6d70e8;letter-spacing:0.31px;left:1317.8px;">Ordered</div>
<div class="t" style="top:1798px;font-size:14px;color:#334155;letter-spacing:0.96px;left:1510px;">$299</div>
<div class="a" style="left:1615px;top:1789.5px;width:31.5px;height:31.5px;background:#eeeffd;border-radius:50%;"></div>
<div class="a" style="left:1658.7px;top:1789.5px;width:31.5px;height:31.5px;background:#ecf4fe;border-radius:50%;"></div>
<div class="a" style="left:1702px;top:1789.5px;width:31.5px;height:31.5px;background:#fee7eb;border-radius:50%;"></div>
<svg class="a" style="left:1624.75px;top:1800.7px;" width="12" height="9" viewBox="0 0 12 9"><path d="M0.7 4.5 Q6 -1.6 11.3 4.5 Q6 10.6 0.7 4.5Z" fill="none" stroke="#5a66f1" stroke-width="1.2"/><circle cx="6" cy="4.5" r="1.6" fill="none" stroke="#5a66f1" stroke-width="1.2"/></svg>
<svg class="a" style="left:1668.65px;top:1800px;" width="12" height="12" viewBox="0 0 12 12"><path d="M1.3 10.7 L1.8 8 L8.3 1.5 Q9.2 .7 10.1 1.6 Q11 2.5 10.2 3.4 L3.8 10 Z M7.2 2.7 L9 4.5" fill="none" stroke="#60a5fa" stroke-width="1.1" stroke-linejoin="round"/></svg>
<svg class="a" style="left:1712.95px;top:1800px;" width="11" height="12" viewBox="0 0 11 12"><path d="M0.6 2.6 H10.4 M3.6 2.4 V.8 H7.4 V2.4 M1.7 2.8 L2.3 11.2 H8.7 L9.3 2.8 M4.3 5 V9 M6.7 5 V9" fill="none" stroke="#f43f5e" stroke-width="1.1" stroke-linejoin="round"/></svg>
<div class="t" style="top:1877px;font-size:14px;color:#334155;letter-spacing:0.62px;left:146px;">6</div>
<div class="a" style="left:243.3px;top:1861.4px;width:45.5px;height:45.5px;background:#eef3f8;border-radius:4px;"></div>
<svg class="a" style="left:243.3px;top:1861.4px;" width="45.5" height="45.5" viewBox="0 0 45.5 45.5"><path d="M20 11.5 Q24.5 8.3 29.5 10.5 Q34 14 33.6 23 Q33.2 31 28.5 34 Q23.5 35.5 19.8 32.5 L23.5 30.5 Q27 28.5 27.3 22.5 Q27.3 16 23.5 14 Z" fill="#f4605a"/><path d="M28 11.5 Q30.8 22 27.8 33" stroke="#f9cfca" stroke-width="1.6" fill="none"/><circle cx="30.7" cy="25.5" r="1.2" fill="#fbe3e0"/><rect x="12.5" y="16" width="10.2" height="13.6" rx="2" fill="#1a1a1d"/><rect x="14.2" y="18" width="6.8" height="9.6" fill="#33282c"/><rect x="22.3" y="17" width="1.8" height="11.6" fill="#c9ccd2"/></svg>
<div class="t" style="top:1869px;font-size:14px;color:#262b3f;font-weight:700;letter-spacing:0.22px;left:301.1px;">Smart Watch</div>
<div class="t" style="top:1888px;font-size:12.25px;color:#9aa3bd;letter-spacing:0.48px;left:301.1px;">#622545</div>
<div class="t" style="top:1877px;font-size:14px;color:#22c55e;letter-spacing:0.45px;left:598.4px;">#user6</div>
<svg class="a" style="left:761.3px;top:1865.2px;" width="38" height="38" viewBox="0 0 38 38"><defs><clipPath id="od5"><rect width="38" height="38" rx="4"/></clipPath></defs><g clip-path="url(#od5)"><rect width="38" height="38" fill="#bdbdbd"/><rect x="7" width="24" height="22" fill="#d7d7d7" opacity=".85"/><ellipse cx="19.5" cy="14.5" rx="6" ry="7.6" fill="#d3a58d"/><path d="M13 12.5 Q12.3 3.5 20 3 Q27.2 4 26 13.5 Q24 8 19.5 8 Q15 8 13 12.5Z" fill="#2e2522"/><path d="M13.5 15 Q13 25.5 19.5 26.5 Q26 25.5 25.6 15 Q24 20.5 19.5 20.5 Q15 20.5 13.5 15Z" fill="#3a2b25"/><path d="M13 25.5 L16 38 L23.5 38 L25 25.5 Q19 29.5 13 25.5Z" fill="#4a4334"/><path d="M0 38 L1 31 Q6 27 13 25.5 L16.5 38 Z" fill="#6a4438"/><path d="M23 38 L25 25.5 Q33 27 37 31 L38 38Z" fill="#2b2420"/></g></svg>
<div class="t" style="top:1869px;font-size:14px;color:#262b3f;font-weight:700;letter-spacing:0.03px;left:811.7px;">Charlie Davieson</div>
<div class="t" style="top:1888px;font-size:12.25px;color:#9aa3bd;letter-spacing:0.17px;left:811.7px;">charliedavieson@gmail.com</div>
<div class="t" style="top:1877px;font-size:14px;color:#334155;letter-spacing:0.59px;left:1132.4px;">13-12-2022</div>
<div class="a" style="left:1305px;top:1869.9px;width:66.5px;height:24px;background:#eaf3fe;border-radius:12px;"></div>
<div class="t" style="top:1876px;font-size:12px;color:#6aa9f7;letter-spacing:0.33px;left:1317.8px;">Packed</div>
<div class="t" style="top:1877px;font-size:14px;color:#334155;letter-spacing:0.96px;left:1510px;">$299</div>
<div class="a" style="left:1615px;top:1868.5px;width:31.5px;height:31.5px;background:#eeeffd;border-radius:50%;"></div>
<div class="a" style="left:1658.7px;top:1868.5px;width:31.5px;height:31.5px;background:#ecf4fe;border-radius:50%;"></div>
<div class="a" style="left:1702px;top:1868.5px;width:31.5px;height:31.5px;background:#fee7eb;border-radius:50%;"></div>
<svg class="a" style="left:1624.75px;top:1879.7px;" width="12" height="9" viewBox="0 0 12 9"><path d="M0.7 4.5 Q6 -1.6 11.3 4.5 Q6 10.6 0.7 4.5Z" fill="none" stroke="#5a66f1" stroke-width="1.2"/><circle cx="6" cy="4.5" r="1.6" fill="none" stroke="#5a66f1" stroke-width="1.2"/></svg>
<svg class="a" style="left:1668.65px;top:1879px;" width="12" height="12" viewBox="0 0 12 12"><path d="M1.3 10.7 L1.8 8 L8.3 1.5 Q9.2 .7 10.1 1.6 Q11 2.5 10.2 3.4 L3.8 10 Z M7.2 2.7 L9 4.5" fill="none" stroke="#60a5fa" stroke-width="1.1" stroke-linejoin="round"/></svg>
<svg class="a" style="left:1712.95px;top:1879px;" width="11" height="12" viewBox="0 0 11 12"><path d="M0.6 2.6 H10.4 M3.6 2.4 V.8 H7.4 V2.4 M1.7 2.8 L2.3 11.2 H8.7 L9.3 2.8 M4.3 5 V9 M6.7 5 V9" fill="none" stroke="#f43f5e" stroke-width="1.1" stroke-linejoin="round"/></svg>
<div class="a" style="left:0px;top:1973px;width:1920px;height:47px;background:#fff;border-top:1px solid #e3e6ec;"></div>
<div class="t" style="top:1991px;font-size:14px;color:#475569;letter-spacing:0.47px;left:660.23px;width:600px;text-align:center;">Copyright © 2023 <span style="color:#5a66f1">Synto</span>. Designed with <svg width="12.6" height="11" viewBox="0 0 24 21" style="display:inline-block;vertical-align:2px;margin:0 1.5px 0 1px"><path d="M12 21 L2 11 A5.9 5.9 0 0 1 12 3.4 A5.9 5.9 0 0 1 22 11 Z" fill="#ef4444"/></svg> by <span style="color:#5a66f1">Spruko</span> All rights reserved</div>
<div class="a" style="left:1848px;top:1948px;width:40px;height:40px;background:#5a66f1;border-radius:7px;box-shadow:0 3px 8px rgba(30,40,90,.08);"></div>
<svg class="a" style="left:1862.6px;top:1964.4px;" width="11" height="6" viewBox="0 0 11 6"><path d="M0 5.7 L5.5 0.2 L11 5.7Z" fill="#fff"/></svg>
</body></html>
